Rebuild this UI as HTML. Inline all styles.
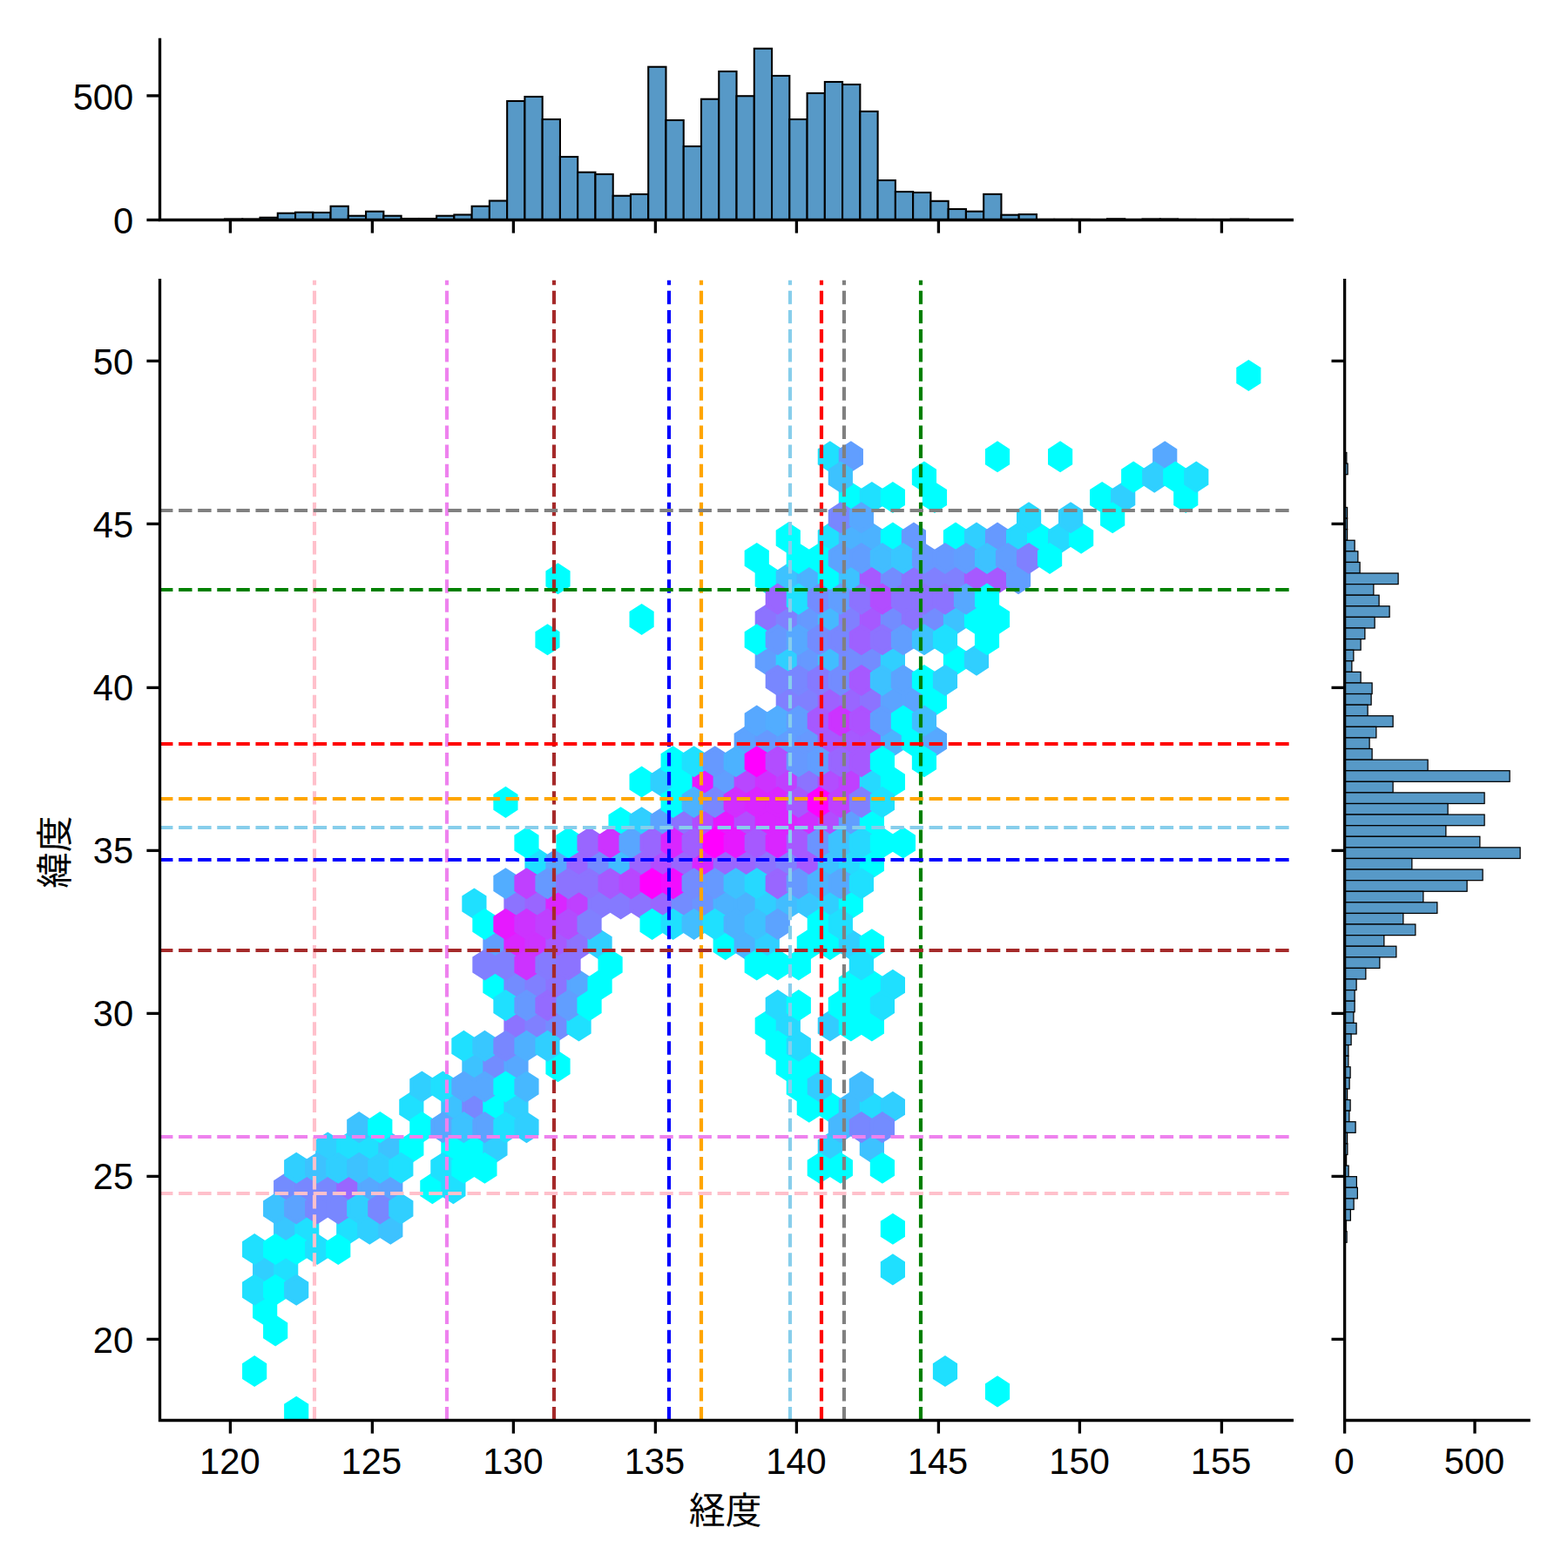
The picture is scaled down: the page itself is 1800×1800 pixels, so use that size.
<!DOCTYPE html><html><head><meta charset="utf-8"><style>html,body{margin:0;padding:0;background:#fff;font-family:"Liberation Sans",sans-serif}svg{display:block}</style></head><body><svg width="1800" height="1800" viewBox="0 0 1800 1800">
<rect width="1800" height="1800" fill="#fff"/>
<clipPath id="ax"><rect x="183.5" y="321.67" width="1299.8" height="1308.83"/></clipPath>
<g stroke-width="4.17" stroke-linejoin="miter" clip-path="url(#ax)">
<polygon points="316.17,1496.28 316.17,1511.83 304.16,1519.61 292.15,1511.83 292.15,1496.28 304.16,1488.51" fill="#00ffff" stroke="#00ffff"/>
<polygon points="316.17,1449.63 316.17,1465.18 304.16,1472.96 292.15,1465.18 292.15,1449.63 304.16,1441.85" fill="#30cfff" stroke="#30cfff"/>
<polygon points="340.20,1449.63 340.20,1465.18 328.19,1472.96 316.18,1465.18 316.18,1449.63 328.19,1441.85" fill="#1fe0ff" stroke="#1fe0ff"/>
<polygon points="340.20,1402.98 340.20,1418.53 328.19,1426.30 316.18,1418.53 316.18,1402.98 328.19,1395.20" fill="#38c7ff" stroke="#38c7ff"/>
<polygon points="340.20,1356.32 340.20,1371.87 328.19,1379.65 316.18,1371.87 316.18,1356.32 328.19,1348.55" fill="#738cff" stroke="#738cff"/>
<polygon points="364.22,1402.98 364.22,1418.53 352.21,1426.30 340.20,1418.53 340.20,1402.98 352.21,1395.20" fill="#1fe0ff" stroke="#1fe0ff"/>
<polygon points="364.22,1356.32 364.22,1371.87 352.21,1379.65 340.20,1371.87 340.20,1356.32 352.21,1348.55" fill="#7887ff" stroke="#7887ff"/>
<polygon points="388.25,1356.32 388.25,1371.87 376.24,1379.65 364.22,1371.87 364.22,1356.32 376.24,1348.55" fill="#7887ff" stroke="#7887ff"/>
<polygon points="388.25,1309.67 388.25,1325.22 376.24,1332.99 364.22,1325.22 364.22,1309.67 376.24,1301.89" fill="#30cfff" stroke="#30cfff"/>
<polygon points="412.27,1402.98 412.27,1418.53 400.26,1426.30 388.25,1418.53 388.25,1402.98 400.26,1395.20" fill="#1fe0ff" stroke="#1fe0ff"/>
<polygon points="412.27,1356.32 412.27,1371.87 400.26,1379.65 388.25,1371.87 388.25,1356.32 400.26,1348.55" fill="#9966ff" stroke="#9966ff"/>
<polygon points="412.27,1309.67 412.27,1325.22 400.26,1332.99 388.25,1325.22 388.25,1309.67 400.26,1301.89" fill="#1fe0ff" stroke="#1fe0ff"/>
<polygon points="436.30,1402.98 436.30,1418.53 424.29,1426.30 412.27,1418.53 412.27,1402.98 424.29,1395.20" fill="#30cfff" stroke="#30cfff"/>
<polygon points="436.30,1356.32 436.30,1371.87 424.29,1379.65 412.27,1371.87 412.27,1356.32 424.29,1348.55" fill="#57a8ff" stroke="#57a8ff"/>
<polygon points="436.30,1309.67 436.30,1325.22 424.29,1332.99 412.27,1325.22 412.27,1309.67 424.29,1301.89" fill="#1fe0ff" stroke="#1fe0ff"/>
<polygon points="460.32,1402.98 460.32,1418.53 448.31,1426.30 436.30,1418.53 436.30,1402.98 448.31,1395.20" fill="#3dc2ff" stroke="#3dc2ff"/>
<polygon points="460.32,1356.32 460.32,1371.87 448.31,1379.65 436.30,1371.87 436.30,1356.32 448.31,1348.55" fill="#5ca3ff" stroke="#5ca3ff"/>
<polygon points="460.32,1309.67 460.32,1325.22 448.31,1332.99 436.30,1325.22 436.30,1309.67 448.31,1301.89" fill="#3dc2ff" stroke="#3dc2ff"/>
<polygon points="484.35,1309.67 484.35,1325.22 472.34,1332.99 460.32,1325.22 460.32,1309.67 472.34,1301.89" fill="#00ffff" stroke="#00ffff"/>
<polygon points="484.35,1263.01 484.35,1278.56 472.34,1286.34 460.32,1278.56 460.32,1263.01 472.34,1255.24" fill="#1fe0ff" stroke="#1fe0ff"/>
<polygon points="508.37,1356.32 508.37,1371.87 496.36,1379.65 484.35,1371.87 484.35,1356.32 496.36,1348.55" fill="#00ffff" stroke="#00ffff"/>
<polygon points="532.40,1356.32 532.40,1371.87 520.39,1379.65 508.37,1371.87 508.37,1356.32 520.39,1348.55" fill="#1fe0ff" stroke="#1fe0ff"/>
<polygon points="532.40,1309.67 532.40,1325.22 520.39,1332.99 508.37,1325.22 508.37,1309.67 520.39,1301.89" fill="#00ffff" stroke="#00ffff"/>
<polygon points="532.40,1263.01 532.40,1278.56 520.39,1286.34 508.37,1278.56 508.37,1263.01 520.39,1255.24" fill="#3dc2ff" stroke="#3dc2ff"/>
<polygon points="556.42,1309.67 556.42,1325.22 544.41,1332.99 532.40,1325.22 532.40,1309.67 544.41,1301.89" fill="#00ffff" stroke="#00ffff"/>
<polygon points="556.42,1263.01 556.42,1278.56 544.41,1286.34 532.40,1278.56 532.40,1263.01 544.41,1255.24" fill="#7887ff" stroke="#7887ff"/>
<polygon points="556.42,1216.36 556.42,1231.91 544.41,1239.69 532.40,1231.91 532.40,1216.36 544.41,1208.58" fill="#3dc2ff" stroke="#3dc2ff"/>
<polygon points="556.42,1029.74 556.42,1045.29 544.41,1053.07 532.40,1045.29 532.40,1029.74 544.41,1021.97" fill="#1fe0ff" stroke="#1fe0ff"/>
<polygon points="580.45,1309.67 580.45,1325.22 568.44,1332.99 556.42,1325.22 556.42,1309.67 568.44,1301.89" fill="#30cfff" stroke="#30cfff"/>
<polygon points="580.45,1263.01 580.45,1278.56 568.44,1286.34 556.42,1278.56 556.42,1263.01 568.44,1255.24" fill="#00ffff" stroke="#00ffff"/>
<polygon points="580.45,1216.36 580.45,1231.91 568.44,1239.69 556.42,1231.91 556.42,1216.36 568.44,1208.58" fill="#738cff" stroke="#738cff"/>
<polygon points="580.45,1123.05 580.45,1138.60 568.44,1146.38 556.42,1138.60 556.42,1123.05 568.44,1115.28" fill="#00ffff" stroke="#00ffff"/>
<polygon points="580.45,1076.40 580.45,1091.95 568.44,1099.72 556.42,1091.95 556.42,1076.40 568.44,1068.62" fill="#619eff" stroke="#619eff"/>
<polygon points="604.48,1263.01 604.48,1278.56 592.46,1286.34 580.45,1278.56 580.45,1263.01 592.46,1255.24" fill="#30cfff" stroke="#30cfff"/>
<polygon points="604.48,1216.36 604.48,1231.91 592.46,1239.69 580.45,1231.91 580.45,1216.36 592.46,1208.58" fill="#57a8ff" stroke="#57a8ff"/>
<polygon points="604.48,1169.71 604.48,1185.26 592.46,1193.03 580.45,1185.26 580.45,1169.71 592.46,1161.93" fill="#8c73ff" stroke="#8c73ff"/>
<polygon points="604.48,1123.05 604.48,1138.60 592.46,1146.38 580.45,1138.60 580.45,1123.05 592.46,1115.28" fill="#738cff" stroke="#738cff"/>
<polygon points="604.48,1076.40 604.48,1091.95 592.46,1099.72 580.45,1091.95 580.45,1076.40 592.46,1068.62" fill="#d926ff" stroke="#d926ff"/>
<polygon points="604.48,1029.74 604.48,1045.29 592.46,1053.07 580.45,1045.29 580.45,1029.74 592.46,1021.97" fill="#8c73ff" stroke="#8c73ff"/>
<polygon points="628.50,1169.71 628.50,1185.26 616.49,1193.03 604.47,1185.26 604.47,1169.71 616.49,1161.93" fill="#8080ff" stroke="#8080ff"/>
<polygon points="628.50,1123.05 628.50,1138.60 616.49,1146.38 604.47,1138.60 604.47,1123.05 616.49,1115.28" fill="#8080ff" stroke="#8080ff"/>
<polygon points="628.50,1076.40 628.50,1091.95 616.49,1099.72 604.47,1091.95 604.47,1076.40 616.49,1068.62" fill="#cc33ff" stroke="#cc33ff"/>
<polygon points="628.50,1029.74 628.50,1045.29 616.49,1053.07 604.47,1045.29 604.47,1029.74 616.49,1021.97" fill="#9966ff" stroke="#9966ff"/>
<polygon points="628.50,983.09 628.50,998.64 616.49,1006.42 604.47,998.64 604.47,983.09 616.49,975.31" fill="#1fe0ff" stroke="#1fe0ff"/>
<polygon points="652.52,1216.36 652.52,1231.91 640.51,1239.69 628.50,1231.91 628.50,1216.36 640.51,1208.58" fill="#00ffff" stroke="#00ffff"/>
<polygon points="652.52,1169.71 652.52,1185.26 640.51,1193.03 628.50,1185.26 628.50,1169.71 640.51,1161.93" fill="#738cff" stroke="#738cff"/>
<polygon points="652.52,1123.05 652.52,1138.60 640.51,1146.38 628.50,1138.60 628.50,1123.05 640.51,1115.28" fill="#8c73ff" stroke="#8c73ff"/>
<polygon points="652.52,1076.40 652.52,1091.95 640.51,1099.72 628.50,1091.95 628.50,1076.40 640.51,1068.62" fill="#a659ff" stroke="#a659ff"/>
<polygon points="652.52,1029.74 652.52,1045.29 640.51,1053.07 628.50,1045.29 628.50,1029.74 640.51,1021.97" fill="#d926ff" stroke="#d926ff"/>
<polygon points="652.52,983.09 652.52,998.64 640.51,1006.42 628.50,998.64 628.50,983.09 640.51,975.31" fill="#57a8ff" stroke="#57a8ff"/>
<polygon points="652.52,656.51 652.52,672.06 640.51,679.84 628.50,672.06 628.50,656.51 640.51,648.74" fill="#00ffff" stroke="#00ffff"/>
<polygon points="676.55,1169.71 676.55,1185.26 664.54,1193.03 652.52,1185.26 652.52,1169.71 664.54,1161.93" fill="#1fe0ff" stroke="#1fe0ff"/>
<polygon points="676.55,1123.05 676.55,1138.60 664.54,1146.38 652.52,1138.60 652.52,1123.05 664.54,1115.28" fill="#57a8ff" stroke="#57a8ff"/>
<polygon points="676.55,1076.40 676.55,1091.95 664.54,1099.72 652.52,1091.95 652.52,1076.40 664.54,1068.62" fill="#8c73ff" stroke="#8c73ff"/>
<polygon points="676.55,1029.74 676.55,1045.29 664.54,1053.07 652.52,1045.29 652.52,1029.74 664.54,1021.97" fill="#bf40ff" stroke="#bf40ff"/>
<polygon points="676.55,983.09 676.55,998.64 664.54,1006.42 652.52,998.64 652.52,983.09 664.54,975.31" fill="#9966ff" stroke="#9966ff"/>
<polygon points="700.58,1123.05 700.58,1138.60 688.56,1146.38 676.55,1138.60 676.55,1123.05 688.56,1115.28" fill="#00ffff" stroke="#00ffff"/>
<polygon points="700.58,1076.40 700.58,1091.95 688.56,1099.72 676.55,1091.95 676.55,1076.40 688.56,1068.62" fill="#30cfff" stroke="#30cfff"/>
<polygon points="700.58,1029.74 700.58,1045.29 688.56,1053.07 676.55,1045.29 676.55,1029.74 688.56,1021.97" fill="#857aff" stroke="#857aff"/>
<polygon points="700.58,983.09 700.58,998.64 688.56,1006.42 676.55,998.64 676.55,983.09 688.56,975.31" fill="#738cff" stroke="#738cff"/>
<polygon points="724.60,1029.74 724.60,1045.29 712.59,1053.07 700.57,1045.29 700.57,1029.74 712.59,1021.97" fill="#857aff" stroke="#857aff"/>
<polygon points="724.60,983.09 724.60,998.64 712.59,1006.42 700.57,998.64 700.57,983.09 712.59,975.31" fill="#42bdff" stroke="#42bdff"/>
<polygon points="724.60,936.44 724.60,951.99 712.59,959.76 700.57,951.99 700.57,936.44 712.59,928.66" fill="#00ffff" stroke="#00ffff"/>
<polygon points="748.62,1029.74 748.62,1045.29 736.61,1053.07 724.60,1045.29 724.60,1029.74 736.61,1021.97" fill="#8c73ff" stroke="#8c73ff"/>
<polygon points="748.62,983.09 748.62,998.64 736.61,1006.42 724.60,998.64 724.60,983.09 736.61,975.31" fill="#9966ff" stroke="#9966ff"/>
<polygon points="748.62,936.44 748.62,951.99 736.61,959.76 724.60,951.99 724.60,936.44 736.61,928.66" fill="#30cfff" stroke="#30cfff"/>
<polygon points="748.62,889.78 748.62,905.33 736.61,913.11 724.60,905.33 724.60,889.78 736.61,882.01" fill="#00ffff" stroke="#00ffff"/>
<polygon points="748.62,703.17 748.62,718.72 736.61,726.49 724.60,718.72 724.60,703.17 736.61,695.39" fill="#00ffff" stroke="#00ffff"/>
<polygon points="772.65,1029.74 772.65,1045.29 760.64,1053.07 748.62,1045.29 748.62,1029.74 760.64,1021.97" fill="#9966ff" stroke="#9966ff"/>
<polygon points="772.65,983.09 772.65,998.64 760.64,1006.42 748.62,998.64 748.62,983.09 760.64,975.31" fill="#b24dff" stroke="#b24dff"/>
<polygon points="772.65,936.44 772.65,951.99 760.64,959.76 748.62,951.99 748.62,936.44 760.64,928.66" fill="#5ca3ff" stroke="#5ca3ff"/>
<polygon points="772.65,889.78 772.65,905.33 760.64,913.11 748.62,905.33 748.62,889.78 760.64,882.01" fill="#30cfff" stroke="#30cfff"/>
<polygon points="796.67,1029.74 796.67,1045.29 784.66,1053.07 772.65,1045.29 772.65,1029.74 784.66,1021.97" fill="#738cff" stroke="#738cff"/>
<polygon points="796.67,983.09 796.67,998.64 784.66,1006.42 772.65,998.64 772.65,983.09 784.66,975.31" fill="#9966ff" stroke="#9966ff"/>
<polygon points="796.67,936.44 796.67,951.99 784.66,959.76 772.65,951.99 772.65,936.44 784.66,928.66" fill="#8c73ff" stroke="#8c73ff"/>
<polygon points="796.67,889.78 796.67,905.33 784.66,913.11 772.65,905.33 772.65,889.78 784.66,882.01" fill="#00ffff" stroke="#00ffff"/>
<polygon points="820.70,1029.74 820.70,1045.29 808.69,1053.07 796.67,1045.29 796.67,1029.74 808.69,1021.97" fill="#6b94ff" stroke="#6b94ff"/>
<polygon points="820.70,983.09 820.70,998.64 808.69,1006.42 796.67,998.64 796.67,983.09 808.69,975.31" fill="#d926ff" stroke="#d926ff"/>
<polygon points="820.70,936.44 820.70,951.99 808.69,959.76 796.67,951.99 796.67,936.44 808.69,928.66" fill="#b24dff" stroke="#b24dff"/>
<polygon points="820.70,889.78 820.70,905.33 808.69,913.11 796.67,905.33 796.67,889.78 808.69,882.01" fill="#e619ff" stroke="#e619ff"/>
<polygon points="844.73,1076.40 844.73,1091.95 832.71,1099.72 820.70,1091.95 820.70,1076.40 832.71,1068.62" fill="#00ffff" stroke="#00ffff"/>
<polygon points="844.73,1029.74 844.73,1045.29 832.71,1053.07 820.70,1045.29 820.70,1029.74 832.71,1021.97" fill="#4cb2ff" stroke="#4cb2ff"/>
<polygon points="844.73,983.09 844.73,998.64 832.71,1006.42 820.70,998.64 820.70,983.09 832.71,975.31" fill="#9966ff" stroke="#9966ff"/>
<polygon points="844.73,936.44 844.73,951.99 832.71,959.76 820.70,951.99 820.70,936.44 832.71,928.66" fill="#e619ff" stroke="#e619ff"/>
<polygon points="844.73,889.78 844.73,905.33 832.71,913.11 820.70,905.33 820.70,889.78 832.71,882.01" fill="#619eff" stroke="#619eff"/>
<polygon points="868.75,1076.40 868.75,1091.95 856.74,1099.72 844.72,1091.95 844.72,1076.40 856.74,1068.62" fill="#4cb2ff" stroke="#4cb2ff"/>
<polygon points="868.75,1029.74 868.75,1045.29 856.74,1053.07 844.72,1045.29 844.72,1029.74 856.74,1021.97" fill="#4cb2ff" stroke="#4cb2ff"/>
<polygon points="868.75,983.09 868.75,998.64 856.74,1006.42 844.72,998.64 844.72,983.09 856.74,975.31" fill="#9966ff" stroke="#9966ff"/>
<polygon points="868.75,936.44 868.75,951.99 856.74,959.76 844.72,951.99 844.72,936.44 856.74,928.66" fill="#b24dff" stroke="#b24dff"/>
<polygon points="868.75,889.78 868.75,905.33 856.74,913.11 844.72,905.33 844.72,889.78 856.74,882.01" fill="#b847ff" stroke="#b847ff"/>
<polygon points="868.75,843.13 868.75,858.68 856.74,866.45 844.72,858.68 844.72,843.13 856.74,835.35" fill="#5ca3ff" stroke="#5ca3ff"/>
<polygon points="892.77,1169.71 892.77,1185.26 880.76,1193.03 868.75,1185.26 868.75,1169.71 880.76,1161.93" fill="#00ffff" stroke="#00ffff"/>
<polygon points="892.77,1076.40 892.77,1091.95 880.76,1099.72 868.75,1091.95 868.75,1076.40 880.76,1068.62" fill="#30cfff" stroke="#30cfff"/>
<polygon points="892.77,1029.74 892.77,1045.29 880.76,1053.07 868.75,1045.29 868.75,1029.74 880.76,1021.97" fill="#30cfff" stroke="#30cfff"/>
<polygon points="892.77,983.09 892.77,998.64 880.76,1006.42 868.75,998.64 868.75,983.09 880.76,975.31" fill="#8c73ff" stroke="#8c73ff"/>
<polygon points="892.77,936.44 892.77,951.99 880.76,959.76 868.75,951.99 868.75,936.44 880.76,928.66" fill="#d926ff" stroke="#d926ff"/>
<polygon points="892.77,889.78 892.77,905.33 880.76,913.11 868.75,905.33 868.75,889.78 880.76,882.01" fill="#cc33ff" stroke="#cc33ff"/>
<polygon points="892.77,843.13 892.77,858.68 880.76,866.45 868.75,858.68 868.75,843.13 880.76,835.35" fill="#6699ff" stroke="#6699ff"/>
<polygon points="892.77,749.82 892.77,765.37 880.76,773.15 868.75,765.37 868.75,749.82 880.76,742.04" fill="#619eff" stroke="#619eff"/>
<polygon points="892.77,703.17 892.77,718.72 880.76,726.49 868.75,718.72 868.75,703.17 880.76,695.39" fill="#8c73ff" stroke="#8c73ff"/>
<polygon points="892.77,656.51 892.77,672.06 880.76,679.84 868.75,672.06 868.75,656.51 880.76,648.74" fill="#00ffff" stroke="#00ffff"/>
<polygon points="916.80,1216.36 916.80,1231.91 904.79,1239.69 892.77,1231.91 892.77,1216.36 904.79,1208.58" fill="#00ffff" stroke="#00ffff"/>
<polygon points="916.80,1169.71 916.80,1185.26 904.79,1193.03 892.77,1185.26 892.77,1169.71 904.79,1161.93" fill="#26d9ff" stroke="#26d9ff"/>
<polygon points="916.80,1029.74 916.80,1045.29 904.79,1053.07 892.77,1045.29 892.77,1029.74 904.79,1021.97" fill="#42bdff" stroke="#42bdff"/>
<polygon points="916.80,983.09 916.80,998.64 904.79,1006.42 892.77,998.64 892.77,983.09 904.79,975.31" fill="#8080ff" stroke="#8080ff"/>
<polygon points="916.80,936.44 916.80,951.99 904.79,959.76 892.77,951.99 892.77,936.44 904.79,928.66" fill="#d926ff" stroke="#d926ff"/>
<polygon points="916.80,889.78 916.80,905.33 904.79,913.11 892.77,905.33 892.77,889.78 904.79,882.01" fill="#bf40ff" stroke="#bf40ff"/>
<polygon points="916.80,843.13 916.80,858.68 904.79,866.45 892.77,858.68 892.77,843.13 904.79,835.35" fill="#619eff" stroke="#619eff"/>
<polygon points="916.80,796.47 916.80,812.02 904.79,819.80 892.77,812.02 892.77,796.47 904.79,788.70" fill="#8080ff" stroke="#8080ff"/>
<polygon points="916.80,749.82 916.80,765.37 904.79,773.15 892.77,765.37 892.77,749.82 904.79,742.04" fill="#30cfff" stroke="#30cfff"/>
<polygon points="916.80,703.17 916.80,718.72 904.79,726.49 892.77,718.72 892.77,703.17 904.79,695.39" fill="#8080ff" stroke="#8080ff"/>
<polygon points="916.80,656.51 916.80,672.06 904.79,679.84 892.77,672.06 892.77,656.51 904.79,648.74" fill="#3dc2ff" stroke="#3dc2ff"/>
<polygon points="916.80,609.86 916.80,625.41 904.79,633.18 892.77,625.41 892.77,609.86 904.79,602.08" fill="#00ffff" stroke="#00ffff"/>
<polygon points="940.82,1263.01 940.82,1278.56 928.81,1286.34 916.80,1278.56 916.80,1263.01 928.81,1255.24" fill="#00ffff" stroke="#00ffff"/>
<polygon points="940.82,1216.36 940.82,1231.91 928.81,1239.69 916.80,1231.91 916.80,1216.36 928.81,1208.58" fill="#00ffff" stroke="#00ffff"/>
<polygon points="940.82,1076.40 940.82,1091.95 928.81,1099.72 916.80,1091.95 916.80,1076.40 928.81,1068.62" fill="#00ffff" stroke="#00ffff"/>
<polygon points="940.82,1029.74 940.82,1045.29 928.81,1053.07 916.80,1045.29 916.80,1029.74 928.81,1021.97" fill="#38c7ff" stroke="#38c7ff"/>
<polygon points="940.82,983.09 940.82,998.64 928.81,1006.42 916.80,998.64 916.80,983.09 928.81,975.31" fill="#a659ff" stroke="#a659ff"/>
<polygon points="940.82,936.44 940.82,951.99 928.81,959.76 916.80,951.99 916.80,936.44 928.81,928.66" fill="#d12eff" stroke="#d12eff"/>
<polygon points="940.82,889.78 940.82,905.33 928.81,913.11 916.80,905.33 916.80,889.78 928.81,882.01" fill="#8c73ff" stroke="#8c73ff"/>
<polygon points="940.82,843.13 940.82,858.68 928.81,866.45 916.80,858.68 916.80,843.13 928.81,835.35" fill="#6699ff" stroke="#6699ff"/>
<polygon points="940.82,796.47 940.82,812.02 928.81,819.80 916.80,812.02 916.80,796.47 928.81,788.70" fill="#8080ff" stroke="#8080ff"/>
<polygon points="940.82,749.82 940.82,765.37 928.81,773.15 916.80,765.37 916.80,749.82 928.81,742.04" fill="#6699ff" stroke="#6699ff"/>
<polygon points="940.82,703.17 940.82,718.72 928.81,726.49 916.80,718.72 916.80,703.17 928.81,695.39" fill="#6699ff" stroke="#6699ff"/>
<polygon points="940.82,656.51 940.82,672.06 928.81,679.84 916.80,672.06 916.80,656.51 928.81,648.74" fill="#4cb2ff" stroke="#4cb2ff"/>
<polygon points="964.85,1309.67 964.85,1325.22 952.84,1332.99 940.82,1325.22 940.82,1309.67 952.84,1301.89" fill="#30cfff" stroke="#30cfff"/>
<polygon points="964.85,1263.01 964.85,1278.56 952.84,1286.34 940.82,1278.56 940.82,1263.01 952.84,1255.24" fill="#00ffff" stroke="#00ffff"/>
<polygon points="964.85,1169.71 964.85,1185.26 952.84,1193.03 940.82,1185.26 940.82,1169.71 952.84,1161.93" fill="#33ccff" stroke="#33ccff"/>
<polygon points="964.85,1076.40 964.85,1091.95 952.84,1099.72 940.82,1091.95 940.82,1076.40 952.84,1068.62" fill="#00ffff" stroke="#00ffff"/>
<polygon points="964.85,1029.74 964.85,1045.29 952.84,1053.07 940.82,1045.29 940.82,1029.74 952.84,1021.97" fill="#30cfff" stroke="#30cfff"/>
<polygon points="964.85,983.09 964.85,998.64 952.84,1006.42 940.82,998.64 940.82,983.09 952.84,975.31" fill="#3dc2ff" stroke="#3dc2ff"/>
<polygon points="964.85,936.44 964.85,951.99 952.84,959.76 940.82,951.99 940.82,936.44 952.84,928.66" fill="#b24dff" stroke="#b24dff"/>
<polygon points="964.85,889.78 964.85,905.33 952.84,913.11 940.82,905.33 940.82,889.78 952.84,882.01" fill="#b24dff" stroke="#b24dff"/>
<polygon points="964.85,843.13 964.85,858.68 952.84,866.45 940.82,858.68 940.82,843.13 952.84,835.35" fill="#a659ff" stroke="#a659ff"/>
<polygon points="964.85,796.47 964.85,812.02 952.84,819.80 940.82,812.02 940.82,796.47 952.84,788.70" fill="#9e61ff" stroke="#9e61ff"/>
<polygon points="964.85,749.82 964.85,765.37 952.84,773.15 940.82,765.37 940.82,749.82 952.84,742.04" fill="#42bdff" stroke="#42bdff"/>
<polygon points="964.85,703.17 964.85,718.72 952.84,726.49 940.82,718.72 940.82,703.17 952.84,695.39" fill="#47b8ff" stroke="#47b8ff"/>
<polygon points="964.85,656.51 964.85,672.06 952.84,679.84 940.82,672.06 940.82,656.51 952.84,648.74" fill="#00ffff" stroke="#00ffff"/>
<polygon points="964.85,609.86 964.85,625.41 952.84,633.18 940.82,625.41 940.82,609.86 952.84,602.08" fill="#1fe0ff" stroke="#1fe0ff"/>
<polygon points="964.85,516.55 964.85,532.10 952.84,539.88 940.82,532.10 940.82,516.55 952.84,508.77" fill="#1fe0ff" stroke="#1fe0ff"/>
<polygon points="988.88,1263.01 988.88,1278.56 976.86,1286.34 964.85,1278.56 964.85,1263.01 976.86,1255.24" fill="#42bdff" stroke="#42bdff"/>
<polygon points="988.88,1169.71 988.88,1185.26 976.86,1193.03 964.85,1185.26 964.85,1169.71 976.86,1161.93" fill="#00ffff" stroke="#00ffff"/>
<polygon points="988.88,1123.05 988.88,1138.60 976.86,1146.38 964.85,1138.60 964.85,1123.05 976.86,1115.28" fill="#00ffff" stroke="#00ffff"/>
<polygon points="988.88,1076.40 988.88,1091.95 976.86,1099.72 964.85,1091.95 964.85,1076.40 976.86,1068.62" fill="#30cfff" stroke="#30cfff"/>
<polygon points="988.88,1029.74 988.88,1045.29 976.86,1053.07 964.85,1045.29 964.85,1029.74 976.86,1021.97" fill="#00ffff" stroke="#00ffff"/>
<polygon points="988.88,983.09 988.88,998.64 976.86,1006.42 964.85,998.64 964.85,983.09 976.86,975.31" fill="#26d9ff" stroke="#26d9ff"/>
<polygon points="988.88,936.44 988.88,951.99 976.86,959.76 964.85,951.99 964.85,936.44 976.86,928.66" fill="#619eff" stroke="#619eff"/>
<polygon points="988.88,889.78 988.88,905.33 976.86,913.11 964.85,905.33 964.85,889.78 976.86,882.01" fill="#bf40ff" stroke="#bf40ff"/>
<polygon points="988.88,843.13 988.88,858.68 976.86,866.45 964.85,858.68 964.85,843.13 976.86,835.35" fill="#a659ff" stroke="#a659ff"/>
<polygon points="988.88,796.47 988.88,812.02 976.86,819.80 964.85,812.02 964.85,796.47 976.86,788.70" fill="#9966ff" stroke="#9966ff"/>
<polygon points="988.88,749.82 988.88,765.37 976.86,773.15 964.85,765.37 964.85,749.82 976.86,742.04" fill="#738cff" stroke="#738cff"/>
<polygon points="988.88,703.17 988.88,718.72 976.86,726.49 964.85,718.72 964.85,703.17 976.86,695.39" fill="#8080ff" stroke="#8080ff"/>
<polygon points="988.88,656.51 988.88,672.06 976.86,679.84 964.85,672.06 964.85,656.51 976.86,648.74" fill="#3dc2ff" stroke="#3dc2ff"/>
<polygon points="988.88,609.86 988.88,625.41 976.86,633.18 964.85,625.41 964.85,609.86 976.86,602.08" fill="#4cb2ff" stroke="#4cb2ff"/>
<polygon points="988.88,563.20 988.88,578.75 976.86,586.53 964.85,578.75 964.85,563.20 976.86,555.43" fill="#00ffff" stroke="#00ffff"/>
<polygon points="988.88,516.55 988.88,532.10 976.86,539.88 964.85,532.10 964.85,516.55 976.86,508.77" fill="#619eff" stroke="#619eff"/>
<polygon points="1012.90,1309.67 1012.90,1325.22 1000.89,1332.99 988.87,1325.22 988.87,1309.67 1000.89,1301.89" fill="#3dc2ff" stroke="#3dc2ff"/>
<polygon points="1012.90,1263.01 1012.90,1278.56 1000.89,1286.34 988.87,1278.56 988.87,1263.01 1000.89,1255.24" fill="#24dbff" stroke="#24dbff"/>
<polygon points="1012.90,1169.71 1012.90,1185.26 1000.89,1193.03 988.87,1185.26 988.87,1169.71 1000.89,1161.93" fill="#00ffff" stroke="#00ffff"/>
<polygon points="1012.90,1123.05 1012.90,1138.60 1000.89,1146.38 988.87,1138.60 988.87,1123.05 1000.89,1115.28" fill="#00ffff" stroke="#00ffff"/>
<polygon points="1012.90,1076.40 1012.90,1091.95 1000.89,1099.72 988.87,1091.95 988.87,1076.40 1000.89,1068.62" fill="#00ffff" stroke="#00ffff"/>
<polygon points="1012.90,983.09 1012.90,998.64 1000.89,1006.42 988.87,998.64 988.87,983.09 1000.89,975.31" fill="#00ffff" stroke="#00ffff"/>
<polygon points="1012.90,936.44 1012.90,951.99 1000.89,959.76 988.87,951.99 988.87,936.44 1000.89,928.66" fill="#00ffff" stroke="#00ffff"/>
<polygon points="1012.90,889.78 1012.90,905.33 1000.89,913.11 988.87,905.33 988.87,889.78 1000.89,882.01" fill="#26d9ff" stroke="#26d9ff"/>
<polygon points="1012.90,843.13 1012.90,858.68 1000.89,866.45 988.87,858.68 988.87,843.13 1000.89,835.35" fill="#a659ff" stroke="#a659ff"/>
<polygon points="1012.90,796.47 1012.90,812.02 1000.89,819.80 988.87,812.02 988.87,796.47 1000.89,788.70" fill="#8c73ff" stroke="#8c73ff"/>
<polygon points="1012.90,749.82 1012.90,765.37 1000.89,773.15 988.87,765.37 988.87,749.82 1000.89,742.04" fill="#738cff" stroke="#738cff"/>
<polygon points="1012.90,703.17 1012.90,718.72 1000.89,726.49 988.87,718.72 988.87,703.17 1000.89,695.39" fill="#a659ff" stroke="#a659ff"/>
<polygon points="1012.90,656.51 1012.90,672.06 1000.89,679.84 988.87,672.06 988.87,656.51 1000.89,648.74" fill="#a659ff" stroke="#a659ff"/>
<polygon points="1012.90,609.86 1012.90,625.41 1000.89,633.18 988.87,625.41 988.87,609.86 1000.89,602.08" fill="#4cb2ff" stroke="#4cb2ff"/>
<polygon points="1012.90,563.20 1012.90,578.75 1000.89,586.53 988.87,578.75 988.87,563.20 1000.89,555.43" fill="#1fe0ff" stroke="#1fe0ff"/>
<polygon points="1036.92,1449.63 1036.92,1465.18 1024.91,1472.96 1012.90,1465.18 1012.90,1449.63 1024.91,1441.85" fill="#1fe0ff" stroke="#1fe0ff"/>
<polygon points="1036.92,1402.98 1036.92,1418.53 1024.91,1426.30 1012.90,1418.53 1012.90,1402.98 1024.91,1395.20" fill="#00ffff" stroke="#00ffff"/>
<polygon points="1036.92,1263.01 1036.92,1278.56 1024.91,1286.34 1012.90,1278.56 1012.90,1263.01 1024.91,1255.24" fill="#30cfff" stroke="#30cfff"/>
<polygon points="1036.92,1123.05 1036.92,1138.60 1024.91,1146.38 1012.90,1138.60 1012.90,1123.05 1024.91,1115.28" fill="#1fe0ff" stroke="#1fe0ff"/>
<polygon points="1036.92,889.78 1036.92,905.33 1024.91,913.11 1012.90,905.33 1012.90,889.78 1024.91,882.01" fill="#00ffff" stroke="#00ffff"/>
<polygon points="1036.92,843.13 1036.92,858.68 1024.91,866.45 1012.90,858.68 1012.90,843.13 1024.91,835.35" fill="#4cb2ff" stroke="#4cb2ff"/>
<polygon points="1036.92,796.47 1036.92,812.02 1024.91,819.80 1012.90,812.02 1012.90,796.47 1024.91,788.70" fill="#5ca3ff" stroke="#5ca3ff"/>
<polygon points="1036.92,749.82 1036.92,765.37 1024.91,773.15 1012.90,765.37 1012.90,749.82 1024.91,742.04" fill="#30cfff" stroke="#30cfff"/>
<polygon points="1036.92,703.17 1036.92,718.72 1024.91,726.49 1012.90,718.72 1012.90,703.17 1024.91,695.39" fill="#738cff" stroke="#738cff"/>
<polygon points="1036.92,656.51 1036.92,672.06 1024.91,679.84 1012.90,672.06 1012.90,656.51 1024.91,648.74" fill="#738cff" stroke="#738cff"/>
<polygon points="1036.92,609.86 1036.92,625.41 1024.91,633.18 1012.90,625.41 1012.90,609.86 1024.91,602.08" fill="#00ffff" stroke="#00ffff"/>
<polygon points="1036.92,563.20 1036.92,578.75 1024.91,586.53 1012.90,578.75 1012.90,563.20 1024.91,555.43" fill="#00ffff" stroke="#00ffff"/>
<polygon points="1060.95,843.13 1060.95,858.68 1048.94,866.45 1036.92,858.68 1036.92,843.13 1048.94,835.35" fill="#00ffff" stroke="#00ffff"/>
<polygon points="1060.95,796.47 1060.95,812.02 1048.94,819.80 1036.92,812.02 1036.92,796.47 1048.94,788.70" fill="#5ca3ff" stroke="#5ca3ff"/>
<polygon points="1060.95,703.17 1060.95,718.72 1048.94,726.49 1036.92,718.72 1036.92,703.17 1048.94,695.39" fill="#8c73ff" stroke="#8c73ff"/>
<polygon points="1060.95,656.51 1060.95,672.06 1048.94,679.84 1036.92,672.06 1036.92,656.51 1048.94,648.74" fill="#8c73ff" stroke="#8c73ff"/>
<polygon points="1060.95,609.86 1060.95,625.41 1048.94,633.18 1036.92,625.41 1036.92,609.86 1048.94,602.08" fill="#6699ff" stroke="#6699ff"/>
<polygon points="1084.98,843.13 1084.98,858.68 1072.96,866.45 1060.95,858.68 1060.95,843.13 1072.96,835.35" fill="#57a8ff" stroke="#57a8ff"/>
<polygon points="1084.98,796.47 1084.98,812.02 1072.96,819.80 1060.95,812.02 1060.95,796.47 1072.96,788.70" fill="#00ffff" stroke="#00ffff"/>
<polygon points="1084.98,703.17 1084.98,718.72 1072.96,726.49 1060.95,718.72 1060.95,703.17 1072.96,695.39" fill="#738cff" stroke="#738cff"/>
<polygon points="1084.98,656.51 1084.98,672.06 1072.96,679.84 1060.95,672.06 1060.95,656.51 1072.96,648.74" fill="#8080ff" stroke="#8080ff"/>
<polygon points="1084.98,563.20 1084.98,578.75 1072.96,586.53 1060.95,578.75 1060.95,563.20 1072.96,555.43" fill="#00ffff" stroke="#00ffff"/>
<polygon points="1109.00,749.82 1109.00,765.37 1096.99,773.15 1084.97,765.37 1084.97,749.82 1096.99,742.04" fill="#00ffff" stroke="#00ffff"/>
<polygon points="1109.00,703.17 1109.00,718.72 1096.99,726.49 1084.97,718.72 1084.97,703.17 1096.99,695.39" fill="#3dc2ff" stroke="#3dc2ff"/>
<polygon points="1109.00,656.51 1109.00,672.06 1096.99,679.84 1084.97,672.06 1084.97,656.51 1096.99,648.74" fill="#8080ff" stroke="#8080ff"/>
<polygon points="1109.00,609.86 1109.00,625.41 1096.99,633.18 1084.97,625.41 1084.97,609.86 1096.99,602.08" fill="#00ffff" stroke="#00ffff"/>
<polygon points="1133.02,749.82 1133.02,765.37 1121.01,773.15 1109.00,765.37 1109.00,749.82 1121.01,742.04" fill="#30cfff" stroke="#30cfff"/>
<polygon points="1133.02,703.17 1133.02,718.72 1121.01,726.49 1109.00,718.72 1109.00,703.17 1121.01,695.39" fill="#00ffff" stroke="#00ffff"/>
<polygon points="1133.02,656.51 1133.02,672.06 1121.01,679.84 1109.00,672.06 1109.00,656.51 1121.01,648.74" fill="#a659ff" stroke="#a659ff"/>
<polygon points="1133.02,609.86 1133.02,625.41 1121.01,633.18 1109.00,625.41 1109.00,609.86 1121.01,602.08" fill="#30cfff" stroke="#30cfff"/>
<polygon points="1157.05,1589.59 1157.05,1605.14 1145.04,1612.92 1133.02,1605.14 1133.02,1589.59 1145.04,1581.82" fill="#00ffff" stroke="#00ffff"/>
<polygon points="1157.05,703.17 1157.05,718.72 1145.04,726.49 1133.02,718.72 1133.02,703.17 1145.04,695.39" fill="#00ffff" stroke="#00ffff"/>
<polygon points="1157.05,656.51 1157.05,672.06 1145.04,679.84 1133.02,672.06 1133.02,656.51 1145.04,648.74" fill="#a659ff" stroke="#a659ff"/>
<polygon points="1157.05,609.86 1157.05,625.41 1145.04,633.18 1133.02,625.41 1133.02,609.86 1145.04,602.08" fill="#6699ff" stroke="#6699ff"/>
<polygon points="1157.05,516.55 1157.05,532.10 1145.04,539.88 1133.02,532.10 1133.02,516.55 1145.04,508.77" fill="#00ffff" stroke="#00ffff"/>
<polygon points="1181.08,656.51 1181.08,672.06 1169.06,679.84 1157.05,672.06 1157.05,656.51 1169.06,648.74" fill="#619eff" stroke="#619eff"/>
<polygon points="1181.08,609.86 1181.08,625.41 1169.06,633.18 1157.05,625.41 1157.05,609.86 1169.06,602.08" fill="#26d9ff" stroke="#26d9ff"/>
<polygon points="1205.10,609.86 1205.10,625.41 1193.09,633.18 1181.08,625.41 1181.08,609.86 1193.09,602.08" fill="#00ffff" stroke="#00ffff"/>
<polygon points="1229.12,609.86 1229.12,625.41 1217.11,633.18 1205.10,625.41 1205.10,609.86 1217.11,602.08" fill="#26d9ff" stroke="#26d9ff"/>
<polygon points="1229.12,516.55 1229.12,532.10 1217.11,539.88 1205.10,532.10 1205.10,516.55 1217.11,508.77" fill="#00ffff" stroke="#00ffff"/>
<polygon points="1253.15,609.86 1253.15,625.41 1241.14,633.18 1229.12,625.41 1229.12,609.86 1241.14,602.08" fill="#00ffff" stroke="#00ffff"/>
<polygon points="1277.17,563.20 1277.17,578.75 1265.16,586.53 1253.15,578.75 1253.15,563.20 1265.16,555.43" fill="#00ffff" stroke="#00ffff"/>
<polygon points="1301.20,563.20 1301.20,578.75 1289.19,586.53 1277.17,578.75 1277.17,563.20 1289.19,555.43" fill="#30cfff" stroke="#30cfff"/>
<polygon points="1349.25,516.55 1349.25,532.10 1337.24,539.88 1325.22,532.10 1325.22,516.55 1337.24,508.77" fill="#57a8ff" stroke="#57a8ff"/>
<polygon points="1373.27,563.20 1373.27,578.75 1361.26,586.53 1349.25,578.75 1349.25,563.20 1361.26,555.43" fill="#00ffff" stroke="#00ffff"/>
<polygon points="1445.35,423.24 1445.35,438.79 1433.34,446.57 1421.33,438.79 1421.33,423.24 1433.34,415.47" fill="#00ffff" stroke="#00ffff"/>
<polygon points="304.16,1566.26 304.16,1581.82 292.15,1589.59 280.14,1581.82 280.14,1566.26 292.15,1558.49" fill="#00ffff" stroke="#00ffff"/>
<polygon points="304.16,1472.96 304.16,1488.51 292.15,1496.28 280.14,1488.51 280.14,1472.96 292.15,1465.18" fill="#1fe0ff" stroke="#1fe0ff"/>
<polygon points="304.16,1426.30 304.16,1441.85 292.15,1449.63 280.14,1441.85 280.14,1426.30 292.15,1418.53" fill="#1fe0ff" stroke="#1fe0ff"/>
<polygon points="328.19,1519.61 328.19,1535.16 316.17,1542.94 304.16,1535.16 304.16,1519.61 316.17,1511.83" fill="#00ffff" stroke="#00ffff"/>
<polygon points="328.19,1472.96 328.19,1488.51 316.17,1496.28 304.16,1488.51 304.16,1472.96 316.17,1465.18" fill="#00ffff" stroke="#00ffff"/>
<polygon points="328.19,1426.30 328.19,1441.85 316.17,1449.63 304.16,1441.85 304.16,1426.30 316.17,1418.53" fill="#00ffff" stroke="#00ffff"/>
<polygon points="328.19,1379.65 328.19,1395.20 316.17,1402.98 304.16,1395.20 304.16,1379.65 316.17,1371.87" fill="#3dc2ff" stroke="#3dc2ff"/>
<polygon points="352.21,1612.92 352.21,1628.47 340.20,1636.25 328.19,1628.47 328.19,1612.92 340.20,1605.14" fill="#00ffff" stroke="#00ffff"/>
<polygon points="352.21,1472.96 352.21,1488.51 340.20,1496.28 328.19,1488.51 328.19,1472.96 340.20,1465.18" fill="#30cfff" stroke="#30cfff"/>
<polygon points="352.21,1426.30 352.21,1441.85 340.20,1449.63 328.19,1441.85 328.19,1426.30 340.20,1418.53" fill="#00ffff" stroke="#00ffff"/>
<polygon points="352.21,1379.65 352.21,1395.20 340.20,1402.98 328.19,1395.20 328.19,1379.65 340.20,1371.87" fill="#5ca3ff" stroke="#5ca3ff"/>
<polygon points="352.21,1332.99 352.21,1348.55 340.20,1356.32 328.19,1348.55 328.19,1332.99 340.20,1325.22" fill="#30cfff" stroke="#30cfff"/>
<polygon points="376.24,1426.30 376.24,1441.85 364.22,1449.63 352.21,1441.85 352.21,1426.30 364.22,1418.53" fill="#1fe0ff" stroke="#1fe0ff"/>
<polygon points="376.24,1379.65 376.24,1395.20 364.22,1402.98 352.21,1395.20 352.21,1379.65 364.22,1371.87" fill="#7887ff" stroke="#7887ff"/>
<polygon points="376.24,1332.99 376.24,1348.55 364.22,1356.32 352.21,1348.55 352.21,1332.99 364.22,1325.22" fill="#3dc2ff" stroke="#3dc2ff"/>
<polygon points="400.26,1426.30 400.26,1441.85 388.25,1449.63 376.24,1441.85 376.24,1426.30 388.25,1418.53" fill="#00ffff" stroke="#00ffff"/>
<polygon points="400.26,1379.65 400.26,1395.20 388.25,1402.98 376.24,1395.20 376.24,1379.65 388.25,1371.87" fill="#7887ff" stroke="#7887ff"/>
<polygon points="400.26,1332.99 400.26,1348.55 388.25,1356.32 376.24,1348.55 376.24,1332.99 388.25,1325.22" fill="#30cfff" stroke="#30cfff"/>
<polygon points="424.29,1379.65 424.29,1395.20 412.27,1402.98 400.26,1395.20 400.26,1379.65 412.27,1371.87" fill="#30cfff" stroke="#30cfff"/>
<polygon points="424.29,1332.99 424.29,1348.55 412.27,1356.32 400.26,1348.55 400.26,1332.99 412.27,1325.22" fill="#3dc2ff" stroke="#3dc2ff"/>
<polygon points="424.29,1286.34 424.29,1301.89 412.27,1309.67 400.26,1301.89 400.26,1286.34 412.27,1278.56" fill="#3dc2ff" stroke="#3dc2ff"/>
<polygon points="448.31,1379.65 448.31,1395.20 436.30,1402.98 424.29,1395.20 424.29,1379.65 436.30,1371.87" fill="#7887ff" stroke="#7887ff"/>
<polygon points="448.31,1332.99 448.31,1348.55 436.30,1356.32 424.29,1348.55 424.29,1332.99 436.30,1325.22" fill="#30cfff" stroke="#30cfff"/>
<polygon points="448.31,1286.34 448.31,1301.89 436.30,1309.67 424.29,1301.89 424.29,1286.34 436.30,1278.56" fill="#00ffff" stroke="#00ffff"/>
<polygon points="472.34,1379.65 472.34,1395.20 460.32,1402.98 448.31,1395.20 448.31,1379.65 460.32,1371.87" fill="#30cfff" stroke="#30cfff"/>
<polygon points="472.34,1332.99 472.34,1348.55 460.32,1356.32 448.31,1348.55 448.31,1332.99 460.32,1325.22" fill="#1fe0ff" stroke="#1fe0ff"/>
<polygon points="496.36,1286.34 496.36,1301.89 484.35,1309.67 472.34,1301.89 472.34,1286.34 484.35,1278.56" fill="#00ffff" stroke="#00ffff"/>
<polygon points="496.36,1239.69 496.36,1255.24 484.35,1263.01 472.34,1255.24 472.34,1239.69 484.35,1231.91" fill="#30cfff" stroke="#30cfff"/>
<polygon points="520.39,1332.99 520.39,1348.55 508.38,1356.32 496.36,1348.55 496.36,1332.99 508.38,1325.22" fill="#1fe0ff" stroke="#1fe0ff"/>
<polygon points="520.39,1286.34 520.39,1301.89 508.38,1309.67 496.36,1301.89 496.36,1286.34 508.38,1278.56" fill="#57a8ff" stroke="#57a8ff"/>
<polygon points="520.39,1239.69 520.39,1255.24 508.38,1263.01 496.36,1255.24 496.36,1239.69 508.38,1231.91" fill="#1fe0ff" stroke="#1fe0ff"/>
<polygon points="544.41,1332.99 544.41,1348.55 532.40,1356.32 520.39,1348.55 520.39,1332.99 532.40,1325.22" fill="#00ffff" stroke="#00ffff"/>
<polygon points="544.41,1286.34 544.41,1301.89 532.40,1309.67 520.39,1301.89 520.39,1286.34 532.40,1278.56" fill="#3dc2ff" stroke="#3dc2ff"/>
<polygon points="544.41,1239.69 544.41,1255.24 532.40,1263.01 520.39,1255.24 520.39,1239.69 532.40,1231.91" fill="#57a8ff" stroke="#57a8ff"/>
<polygon points="544.41,1193.03 544.41,1208.58 532.40,1216.36 520.39,1208.58 520.39,1193.03 532.40,1185.26" fill="#1fe0ff" stroke="#1fe0ff"/>
<polygon points="568.44,1332.99 568.44,1348.55 556.42,1356.32 544.41,1348.55 544.41,1332.99 556.42,1325.22" fill="#00ffff" stroke="#00ffff"/>
<polygon points="568.44,1286.34 568.44,1301.89 556.42,1309.67 544.41,1301.89 544.41,1286.34 556.42,1278.56" fill="#5ca3ff" stroke="#5ca3ff"/>
<polygon points="568.44,1239.69 568.44,1255.24 556.42,1263.01 544.41,1255.24 544.41,1239.69 556.42,1231.91" fill="#57a8ff" stroke="#57a8ff"/>
<polygon points="568.44,1193.03 568.44,1208.58 556.42,1216.36 544.41,1208.58 544.41,1193.03 556.42,1185.26" fill="#38c7ff" stroke="#38c7ff"/>
<polygon points="568.44,1099.72 568.44,1115.28 556.42,1123.05 544.41,1115.28 544.41,1099.72 556.42,1091.95" fill="#8080ff" stroke="#8080ff"/>
<polygon points="568.44,1053.07 568.44,1068.62 556.42,1076.40 544.41,1068.62 544.41,1053.07 556.42,1045.29" fill="#00ffff" stroke="#00ffff"/>
<polygon points="592.46,1286.34 592.46,1301.89 580.45,1309.67 568.44,1301.89 568.44,1286.34 580.45,1278.56" fill="#1fe0ff" stroke="#1fe0ff"/>
<polygon points="592.46,1239.69 592.46,1255.24 580.45,1263.01 568.44,1255.24 568.44,1239.69 580.45,1231.91" fill="#00ffff" stroke="#00ffff"/>
<polygon points="592.46,1193.03 592.46,1208.58 580.45,1216.36 568.44,1208.58 568.44,1193.03 580.45,1185.26" fill="#7887ff" stroke="#7887ff"/>
<polygon points="592.46,1146.38 592.46,1161.93 580.45,1169.71 568.44,1161.93 568.44,1146.38 580.45,1138.60" fill="#1fe0ff" stroke="#1fe0ff"/>
<polygon points="592.46,1099.72 592.46,1115.28 580.45,1123.05 568.44,1115.28 568.44,1099.72 580.45,1091.95" fill="#8080ff" stroke="#8080ff"/>
<polygon points="592.46,1053.07 592.46,1068.62 580.45,1076.40 568.44,1068.62 568.44,1053.07 580.45,1045.29" fill="#e619ff" stroke="#e619ff"/>
<polygon points="592.46,1006.42 592.46,1021.97 580.45,1029.74 568.44,1021.97 568.44,1006.42 580.45,998.64" fill="#52adff" stroke="#52adff"/>
<polygon points="592.46,913.11 592.46,928.66 580.45,936.44 568.44,928.66 568.44,913.11 580.45,905.33" fill="#00ffff" stroke="#00ffff"/>
<polygon points="616.49,1286.34 616.49,1301.89 604.47,1309.67 592.46,1301.89 592.46,1286.34 604.47,1278.56" fill="#30cfff" stroke="#30cfff"/>
<polygon points="616.49,1239.69 616.49,1255.24 604.47,1263.01 592.46,1255.24 592.46,1239.69 604.47,1231.91" fill="#47b8ff" stroke="#47b8ff"/>
<polygon points="616.49,1193.03 616.49,1208.58 604.47,1216.36 592.46,1208.58 592.46,1193.03 604.47,1185.26" fill="#4fb0ff" stroke="#4fb0ff"/>
<polygon points="616.49,1146.38 616.49,1161.93 604.47,1169.71 592.46,1161.93 592.46,1146.38 604.47,1138.60" fill="#6699ff" stroke="#6699ff"/>
<polygon points="616.49,1099.72 616.49,1115.28 604.47,1123.05 592.46,1115.28 592.46,1099.72 604.47,1091.95" fill="#cc33ff" stroke="#cc33ff"/>
<polygon points="616.49,1053.07 616.49,1068.62 604.47,1076.40 592.46,1068.62 592.46,1053.07 604.47,1045.29" fill="#cc33ff" stroke="#cc33ff"/>
<polygon points="616.49,1006.42 616.49,1021.97 604.47,1029.74 592.46,1021.97 592.46,1006.42 604.47,998.64" fill="#bf40ff" stroke="#bf40ff"/>
<polygon points="616.49,959.76 616.49,975.31 604.47,983.09 592.46,975.31 592.46,959.76 604.47,951.99" fill="#00ffff" stroke="#00ffff"/>
<polygon points="640.51,1193.03 640.51,1208.58 628.50,1216.36 616.49,1208.58 616.49,1193.03 628.50,1185.26" fill="#30cfff" stroke="#30cfff"/>
<polygon points="640.51,1146.38 640.51,1161.93 628.50,1169.71 616.49,1161.93 616.49,1146.38 628.50,1138.60" fill="#946bff" stroke="#946bff"/>
<polygon points="640.51,1099.72 640.51,1115.28 628.50,1123.05 616.49,1115.28 616.49,1099.72 628.50,1091.95" fill="#857aff" stroke="#857aff"/>
<polygon points="640.51,1053.07 640.51,1068.62 628.50,1076.40 616.49,1068.62 616.49,1053.07 628.50,1045.29" fill="#bf40ff" stroke="#bf40ff"/>
<polygon points="640.51,1006.42 640.51,1021.97 628.50,1029.74 616.49,1021.97 616.49,1006.42 628.50,998.64" fill="#6699ff" stroke="#6699ff"/>
<polygon points="640.51,726.49 640.51,742.04 628.50,749.82 616.49,742.04 616.49,726.49 628.50,718.72" fill="#00ffff" stroke="#00ffff"/>
<polygon points="664.54,1146.38 664.54,1161.93 652.52,1169.71 640.51,1161.93 640.51,1146.38 652.52,1138.60" fill="#619eff" stroke="#619eff"/>
<polygon points="664.54,1099.72 664.54,1115.28 652.52,1123.05 640.51,1115.28 640.51,1099.72 652.52,1091.95" fill="#8c73ff" stroke="#8c73ff"/>
<polygon points="664.54,1053.07 664.54,1068.62 652.52,1076.40 640.51,1068.62 640.51,1053.07 652.52,1045.29" fill="#b24dff" stroke="#b24dff"/>
<polygon points="664.54,1006.42 664.54,1021.97 652.52,1029.74 640.51,1021.97 640.51,1006.42 652.52,998.64" fill="#8c73ff" stroke="#8c73ff"/>
<polygon points="664.54,959.76 664.54,975.31 652.52,983.09 640.51,975.31 640.51,959.76 652.52,951.99" fill="#00ffff" stroke="#00ffff"/>
<polygon points="688.56,1146.38 688.56,1161.93 676.55,1169.71 664.54,1161.93 664.54,1146.38 676.55,1138.60" fill="#00ffff" stroke="#00ffff"/>
<polygon points="688.56,1053.07 688.56,1068.62 676.55,1076.40 664.54,1068.62 664.54,1053.07 676.55,1045.29" fill="#8080ff" stroke="#8080ff"/>
<polygon points="688.56,1006.42 688.56,1021.97 676.55,1029.74 664.54,1021.97 664.54,1006.42 676.55,998.64" fill="#8c73ff" stroke="#8c73ff"/>
<polygon points="688.56,959.76 688.56,975.31 676.55,983.09 664.54,975.31 664.54,959.76 676.55,951.99" fill="#9966ff" stroke="#9966ff"/>
<polygon points="712.59,1099.72 712.59,1115.28 700.57,1123.05 688.56,1115.28 688.56,1099.72 700.57,1091.95" fill="#00ffff" stroke="#00ffff"/>
<polygon points="712.59,1006.42 712.59,1021.97 700.57,1029.74 688.56,1021.97 688.56,1006.42 700.57,998.64" fill="#a659ff" stroke="#a659ff"/>
<polygon points="712.59,959.76 712.59,975.31 700.57,983.09 688.56,975.31 688.56,959.76 700.57,951.99" fill="#cc33ff" stroke="#cc33ff"/>
<polygon points="736.61,1006.42 736.61,1021.97 724.60,1029.74 712.59,1021.97 712.59,1006.42 724.60,998.64" fill="#b847ff" stroke="#b847ff"/>
<polygon points="736.61,959.76 736.61,975.31 724.60,983.09 712.59,975.31 712.59,959.76 724.60,951.99" fill="#59a6ff" stroke="#59a6ff"/>
<polygon points="760.64,1053.07 760.64,1068.62 748.62,1076.40 736.61,1068.62 736.61,1053.07 748.62,1045.29" fill="#00ffff" stroke="#00ffff"/>
<polygon points="760.64,1006.42 760.64,1021.97 748.62,1029.74 736.61,1021.97 736.61,1006.42 748.62,998.64" fill="#ff00ff" stroke="#ff00ff"/>
<polygon points="760.64,959.76 760.64,975.31 748.62,983.09 736.61,975.31 736.61,959.76 748.62,951.99" fill="#9966ff" stroke="#9966ff"/>
<polygon points="784.66,1053.07 784.66,1068.62 772.65,1076.40 760.64,1068.62 760.64,1053.07 772.65,1045.29" fill="#1fe0ff" stroke="#1fe0ff"/>
<polygon points="784.66,1006.42 784.66,1021.97 772.65,1029.74 760.64,1021.97 760.64,1006.42 772.65,998.64" fill="#f20dff" stroke="#f20dff"/>
<polygon points="784.66,959.76 784.66,975.31 772.65,983.09 760.64,975.31 760.64,959.76 772.65,951.99" fill="#d926ff" stroke="#d926ff"/>
<polygon points="784.66,913.11 784.66,928.66 772.65,936.44 760.64,928.66 760.64,913.11 772.65,905.33" fill="#00ffff" stroke="#00ffff"/>
<polygon points="784.66,866.45 784.66,882.01 772.65,889.78 760.64,882.01 760.64,866.45 772.65,858.68" fill="#00ffff" stroke="#00ffff"/>
<polygon points="808.69,1053.07 808.69,1068.62 796.67,1076.40 784.66,1068.62 784.66,1053.07 796.67,1045.29" fill="#42bdff" stroke="#42bdff"/>
<polygon points="808.69,1006.42 808.69,1021.97 796.67,1029.74 784.66,1021.97 784.66,1006.42 796.67,998.64" fill="#738cff" stroke="#738cff"/>
<polygon points="808.69,959.76 808.69,975.31 796.67,983.09 784.66,975.31 784.66,959.76 796.67,951.99" fill="#a15eff" stroke="#a15eff"/>
<polygon points="808.69,913.11 808.69,928.66 796.67,936.44 784.66,928.66 784.66,913.11 796.67,905.33" fill="#4cb2ff" stroke="#4cb2ff"/>
<polygon points="808.69,866.45 808.69,882.01 796.67,889.78 784.66,882.01 784.66,866.45 796.67,858.68" fill="#1fe0ff" stroke="#1fe0ff"/>
<polygon points="832.71,1053.07 832.71,1068.62 820.70,1076.40 808.69,1068.62 808.69,1053.07 820.70,1045.29" fill="#1fe0ff" stroke="#1fe0ff"/>
<polygon points="832.71,1006.42 832.71,1021.97 820.70,1029.74 808.69,1021.97 808.69,1006.42 820.70,998.64" fill="#6699ff" stroke="#6699ff"/>
<polygon points="832.71,959.76 832.71,975.31 820.70,983.09 808.69,975.31 808.69,959.76 820.70,951.99" fill="#ff00ff" stroke="#ff00ff"/>
<polygon points="832.71,913.11 832.71,928.66 820.70,936.44 808.69,928.66 808.69,913.11 820.70,905.33" fill="#7887ff" stroke="#7887ff"/>
<polygon points="832.71,866.45 832.71,882.01 820.70,889.78 808.69,882.01 808.69,866.45 820.70,858.68" fill="#6699ff" stroke="#6699ff"/>
<polygon points="856.74,1053.07 856.74,1068.62 844.72,1076.40 832.71,1068.62 832.71,1053.07 844.72,1045.29" fill="#4cb2ff" stroke="#4cb2ff"/>
<polygon points="856.74,1006.42 856.74,1021.97 844.72,1029.74 832.71,1021.97 832.71,1006.42 844.72,998.64" fill="#3dc2ff" stroke="#3dc2ff"/>
<polygon points="856.74,959.76 856.74,975.31 844.72,983.09 832.71,975.31 832.71,959.76 844.72,951.99" fill="#e619ff" stroke="#e619ff"/>
<polygon points="856.74,913.11 856.74,928.66 844.72,936.44 832.71,928.66 832.71,913.11 844.72,905.33" fill="#d12eff" stroke="#d12eff"/>
<polygon points="856.74,866.45 856.74,882.01 844.72,889.78 832.71,882.01 832.71,866.45 844.72,858.68" fill="#4cb2ff" stroke="#4cb2ff"/>
<polygon points="880.76,1099.72 880.76,1115.28 868.75,1123.05 856.74,1115.28 856.74,1099.72 868.75,1091.95" fill="#00ffff" stroke="#00ffff"/>
<polygon points="880.76,1053.07 880.76,1068.62 868.75,1076.40 856.74,1068.62 856.74,1053.07 868.75,1045.29" fill="#3dc2ff" stroke="#3dc2ff"/>
<polygon points="880.76,1006.42 880.76,1021.97 868.75,1029.74 856.74,1021.97 856.74,1006.42 868.75,998.64" fill="#26d9ff" stroke="#26d9ff"/>
<polygon points="880.76,959.76 880.76,975.31 868.75,983.09 856.74,975.31 856.74,959.76 868.75,951.99" fill="#a659ff" stroke="#a659ff"/>
<polygon points="880.76,913.11 880.76,928.66 868.75,936.44 856.74,928.66 856.74,913.11 868.75,905.33" fill="#d926ff" stroke="#d926ff"/>
<polygon points="880.76,866.45 880.76,882.01 868.75,889.78 856.74,882.01 856.74,866.45 868.75,858.68" fill="#ff00ff" stroke="#ff00ff"/>
<polygon points="880.76,819.80 880.76,835.35 868.75,843.13 856.74,835.35 856.74,819.80 868.75,812.02" fill="#57a8ff" stroke="#57a8ff"/>
<polygon points="880.76,726.49 880.76,742.04 868.75,749.82 856.74,742.04 856.74,726.49 868.75,718.72" fill="#00ffff" stroke="#00ffff"/>
<polygon points="880.76,633.18 880.76,648.74 868.75,656.51 856.74,648.74 856.74,633.18 868.75,625.41" fill="#00ffff" stroke="#00ffff"/>
<polygon points="904.79,1193.03 904.79,1208.58 892.77,1216.36 880.76,1208.58 880.76,1193.03 892.77,1185.26" fill="#00ffff" stroke="#00ffff"/>
<polygon points="904.79,1146.38 904.79,1161.93 892.77,1169.71 880.76,1161.93 880.76,1146.38 892.77,1138.60" fill="#26d9ff" stroke="#26d9ff"/>
<polygon points="904.79,1099.72 904.79,1115.28 892.77,1123.05 880.76,1115.28 880.76,1099.72 892.77,1091.95" fill="#00ffff" stroke="#00ffff"/>
<polygon points="904.79,1053.07 904.79,1068.62 892.77,1076.40 880.76,1068.62 880.76,1053.07 892.77,1045.29" fill="#5ca3ff" stroke="#5ca3ff"/>
<polygon points="904.79,1006.42 904.79,1021.97 892.77,1029.74 880.76,1021.97 880.76,1006.42 892.77,998.64" fill="#9966ff" stroke="#9966ff"/>
<polygon points="904.79,959.76 904.79,975.31 892.77,983.09 880.76,975.31 880.76,959.76 892.77,951.99" fill="#d926ff" stroke="#d926ff"/>
<polygon points="904.79,913.11 904.79,928.66 892.77,936.44 880.76,928.66 880.76,913.11 892.77,905.33" fill="#d926ff" stroke="#d926ff"/>
<polygon points="904.79,866.45 904.79,882.01 892.77,889.78 880.76,882.01 880.76,866.45 892.77,858.68" fill="#b24dff" stroke="#b24dff"/>
<polygon points="904.79,819.80 904.79,835.35 892.77,843.13 880.76,835.35 880.76,819.80 892.77,812.02" fill="#52adff" stroke="#52adff"/>
<polygon points="904.79,773.15 904.79,788.70 892.77,796.47 880.76,788.70 880.76,773.15 892.77,765.37" fill="#7887ff" stroke="#7887ff"/>
<polygon points="904.79,726.49 904.79,742.04 892.77,749.82 880.76,742.04 880.76,726.49 892.77,718.72" fill="#6699ff" stroke="#6699ff"/>
<polygon points="904.79,679.84 904.79,695.39 892.77,703.17 880.76,695.39 880.76,679.84 892.77,672.06" fill="#9966ff" stroke="#9966ff"/>
<polygon points="928.81,1239.69 928.81,1255.24 916.80,1263.01 904.79,1255.24 904.79,1239.69 916.80,1231.91" fill="#00ffff" stroke="#00ffff"/>
<polygon points="928.81,1193.03 928.81,1208.58 916.80,1216.36 904.79,1208.58 904.79,1193.03 916.80,1185.26" fill="#26d9ff" stroke="#26d9ff"/>
<polygon points="928.81,1146.38 928.81,1161.93 916.80,1169.71 904.79,1161.93 904.79,1146.38 916.80,1138.60" fill="#00ffff" stroke="#00ffff"/>
<polygon points="928.81,1099.72 928.81,1115.28 916.80,1123.05 904.79,1115.28 904.79,1099.72 916.80,1091.95" fill="#00ffff" stroke="#00ffff"/>
<polygon points="928.81,1006.42 928.81,1021.97 916.80,1029.74 904.79,1021.97 904.79,1006.42 916.80,998.64" fill="#6699ff" stroke="#6699ff"/>
<polygon points="928.81,959.76 928.81,975.31 916.80,983.09 904.79,975.31 904.79,959.76 916.80,951.99" fill="#a659ff" stroke="#a659ff"/>
<polygon points="928.81,913.11 928.81,928.66 916.80,936.44 904.79,928.66 904.79,913.11 916.80,905.33" fill="#a659ff" stroke="#a659ff"/>
<polygon points="928.81,866.45 928.81,882.01 916.80,889.78 904.79,882.01 904.79,866.45 916.80,858.68" fill="#6699ff" stroke="#6699ff"/>
<polygon points="928.81,819.80 928.81,835.35 916.80,843.13 904.79,835.35 904.79,819.80 916.80,812.02" fill="#619eff" stroke="#619eff"/>
<polygon points="928.81,773.15 928.81,788.70 916.80,796.47 904.79,788.70 904.79,773.15 916.80,765.37" fill="#7887ff" stroke="#7887ff"/>
<polygon points="928.81,726.49 928.81,742.04 916.80,749.82 904.79,742.04 904.79,726.49 916.80,718.72" fill="#57a8ff" stroke="#57a8ff"/>
<polygon points="928.81,679.84 928.81,695.39 916.80,703.17 904.79,695.39 904.79,679.84 916.80,672.06" fill="#1fe0ff" stroke="#1fe0ff"/>
<polygon points="928.81,633.18 928.81,648.74 916.80,656.51 904.79,648.74 904.79,633.18 916.80,625.41" fill="#00ffff" stroke="#00ffff"/>
<polygon points="952.84,1332.99 952.84,1348.55 940.82,1356.32 928.81,1348.55 928.81,1332.99 940.82,1325.22" fill="#00ffff" stroke="#00ffff"/>
<polygon points="952.84,1239.69 952.84,1255.24 940.82,1263.01 928.81,1255.24 928.81,1239.69 940.82,1231.91" fill="#33ccff" stroke="#33ccff"/>
<polygon points="952.84,1053.07 952.84,1068.62 940.82,1076.40 928.81,1068.62 928.81,1053.07 940.82,1045.29" fill="#00ffff" stroke="#00ffff"/>
<polygon points="952.84,1006.42 952.84,1021.97 940.82,1029.74 928.81,1021.97 928.81,1006.42 940.82,998.64" fill="#4cb2ff" stroke="#4cb2ff"/>
<polygon points="952.84,959.76 952.84,975.31 940.82,983.09 928.81,975.31 928.81,959.76 940.82,951.99" fill="#6b94ff" stroke="#6b94ff"/>
<polygon points="952.84,913.11 952.84,928.66 940.82,936.44 928.81,928.66 928.81,913.11 940.82,905.33" fill="#ff00ff" stroke="#ff00ff"/>
<polygon points="952.84,866.45 952.84,882.01 940.82,889.78 928.81,882.01 928.81,866.45 940.82,858.68" fill="#619eff" stroke="#619eff"/>
<polygon points="952.84,819.80 952.84,835.35 940.82,843.13 928.81,835.35 928.81,819.80 940.82,812.02" fill="#a659ff" stroke="#a659ff"/>
<polygon points="952.84,773.15 952.84,788.70 940.82,796.47 928.81,788.70 928.81,773.15 940.82,765.37" fill="#857aff" stroke="#857aff"/>
<polygon points="952.84,726.49 952.84,742.04 940.82,749.82 928.81,742.04 928.81,726.49 940.82,718.72" fill="#738cff" stroke="#738cff"/>
<polygon points="952.84,679.84 952.84,695.39 940.82,703.17 928.81,695.39 928.81,679.84 940.82,672.06" fill="#738cff" stroke="#738cff"/>
<polygon points="952.84,633.18 952.84,648.74 940.82,656.51 928.81,648.74 928.81,633.18 940.82,625.41" fill="#00ffff" stroke="#00ffff"/>
<polygon points="976.86,1332.99 976.86,1348.55 964.85,1356.32 952.84,1348.55 952.84,1332.99 964.85,1325.22" fill="#00ffff" stroke="#00ffff"/>
<polygon points="976.86,1286.34 976.86,1301.89 964.85,1309.67 952.84,1301.89 952.84,1286.34 964.85,1278.56" fill="#47b8ff" stroke="#47b8ff"/>
<polygon points="976.86,1146.38 976.86,1161.93 964.85,1169.71 952.84,1161.93 952.84,1146.38 964.85,1138.60" fill="#00ffff" stroke="#00ffff"/>
<polygon points="976.86,1053.07 976.86,1068.62 964.85,1076.40 952.84,1068.62 952.84,1053.07 964.85,1045.29" fill="#1fe0ff" stroke="#1fe0ff"/>
<polygon points="976.86,1006.42 976.86,1021.97 964.85,1029.74 952.84,1021.97 952.84,1006.42 964.85,998.64" fill="#57a8ff" stroke="#57a8ff"/>
<polygon points="976.86,959.76 976.86,975.31 964.85,983.09 952.84,975.31 952.84,959.76 964.85,951.99" fill="#3dc2ff" stroke="#3dc2ff"/>
<polygon points="976.86,913.11 976.86,928.66 964.85,936.44 952.84,928.66 952.84,913.11 964.85,905.33" fill="#bf40ff" stroke="#bf40ff"/>
<polygon points="976.86,866.45 976.86,882.01 964.85,889.78 952.84,882.01 952.84,866.45 964.85,858.68" fill="#9966ff" stroke="#9966ff"/>
<polygon points="976.86,819.80 976.86,835.35 964.85,843.13 952.84,835.35 952.84,819.80 964.85,812.02" fill="#cc33ff" stroke="#cc33ff"/>
<polygon points="976.86,773.15 976.86,788.70 964.85,796.47 952.84,788.70 952.84,773.15 964.85,765.37" fill="#738cff" stroke="#738cff"/>
<polygon points="976.86,726.49 976.86,742.04 964.85,749.82 952.84,742.04 952.84,726.49 964.85,718.72" fill="#7887ff" stroke="#7887ff"/>
<polygon points="976.86,679.84 976.86,695.39 964.85,703.17 952.84,695.39 952.84,679.84 964.85,672.06" fill="#619eff" stroke="#619eff"/>
<polygon points="976.86,633.18 976.86,648.74 964.85,656.51 952.84,648.74 952.84,633.18 964.85,625.41" fill="#5ca3ff" stroke="#5ca3ff"/>
<polygon points="976.86,586.53 976.86,602.08 964.85,609.86 952.84,602.08 952.84,586.53 964.85,578.75" fill="#7887ff" stroke="#7887ff"/>
<polygon points="976.86,539.88 976.86,555.43 964.85,563.20 952.84,555.43 952.84,539.88 964.85,532.10" fill="#3dc2ff" stroke="#3dc2ff"/>
<polygon points="1000.89,1286.34 1000.89,1301.89 988.87,1309.67 976.86,1301.89 976.86,1286.34 988.87,1278.56" fill="#7887ff" stroke="#7887ff"/>
<polygon points="1000.89,1239.69 1000.89,1255.24 988.87,1263.01 976.86,1255.24 976.86,1239.69 988.87,1231.91" fill="#42bdff" stroke="#42bdff"/>
<polygon points="1000.89,1146.38 1000.89,1161.93 988.87,1169.71 976.86,1161.93 976.86,1146.38 988.87,1138.60" fill="#00ffff" stroke="#00ffff"/>
<polygon points="1000.89,1099.72 1000.89,1115.28 988.87,1123.05 976.86,1115.28 976.86,1099.72 988.87,1091.95" fill="#1fe0ff" stroke="#1fe0ff"/>
<polygon points="1000.89,1006.42 1000.89,1021.97 988.87,1029.74 976.86,1021.97 976.86,1006.42 988.87,998.64" fill="#1fe0ff" stroke="#1fe0ff"/>
<polygon points="1000.89,959.76 1000.89,975.31 988.87,983.09 976.86,975.31 976.86,959.76 988.87,951.99" fill="#26d9ff" stroke="#26d9ff"/>
<polygon points="1000.89,913.11 1000.89,928.66 988.87,936.44 976.86,928.66 976.86,913.11 988.87,905.33" fill="#8080ff" stroke="#8080ff"/>
<polygon points="1000.89,866.45 1000.89,882.01 988.87,889.78 976.86,882.01 976.86,866.45 988.87,858.68" fill="#a659ff" stroke="#a659ff"/>
<polygon points="1000.89,819.80 1000.89,835.35 988.87,843.13 976.86,835.35 976.86,819.80 988.87,812.02" fill="#ad52ff" stroke="#ad52ff"/>
<polygon points="1000.89,773.15 1000.89,788.70 988.87,796.47 976.86,788.70 976.86,773.15 988.87,765.37" fill="#a659ff" stroke="#a659ff"/>
<polygon points="1000.89,726.49 1000.89,742.04 988.87,749.82 976.86,742.04 976.86,726.49 988.87,718.72" fill="#9e61ff" stroke="#9e61ff"/>
<polygon points="1000.89,679.84 1000.89,695.39 988.87,703.17 976.86,695.39 976.86,679.84 988.87,672.06" fill="#8c73ff" stroke="#8c73ff"/>
<polygon points="1000.89,633.18 1000.89,648.74 988.87,656.51 976.86,648.74 976.86,633.18 988.87,625.41" fill="#619eff" stroke="#619eff"/>
<polygon points="1000.89,586.53 1000.89,602.08 988.87,609.86 976.86,602.08 976.86,586.53 988.87,578.75" fill="#57a8ff" stroke="#57a8ff"/>
<polygon points="1024.91,1332.99 1024.91,1348.55 1012.90,1356.32 1000.89,1348.55 1000.89,1332.99 1012.90,1325.22" fill="#00ffff" stroke="#00ffff"/>
<polygon points="1024.91,1286.34 1024.91,1301.89 1012.90,1309.67 1000.89,1301.89 1000.89,1286.34 1012.90,1278.56" fill="#738cff" stroke="#738cff"/>
<polygon points="1024.91,1146.38 1024.91,1161.93 1012.90,1169.71 1000.89,1161.93 1000.89,1146.38 1012.90,1138.60" fill="#1fe0ff" stroke="#1fe0ff"/>
<polygon points="1024.91,959.76 1024.91,975.31 1012.90,983.09 1000.89,975.31 1000.89,959.76 1012.90,951.99" fill="#00ffff" stroke="#00ffff"/>
<polygon points="1024.91,913.11 1024.91,928.66 1012.90,936.44 1000.89,928.66 1000.89,913.11 1012.90,905.33" fill="#1fe0ff" stroke="#1fe0ff"/>
<polygon points="1024.91,866.45 1024.91,882.01 1012.90,889.78 1000.89,882.01 1000.89,866.45 1012.90,858.68" fill="#00ffff" stroke="#00ffff"/>
<polygon points="1024.91,819.80 1024.91,835.35 1012.90,843.13 1000.89,835.35 1000.89,819.80 1012.90,812.02" fill="#619eff" stroke="#619eff"/>
<polygon points="1024.91,773.15 1024.91,788.70 1012.90,796.47 1000.89,788.70 1000.89,773.15 1012.90,765.37" fill="#3dc2ff" stroke="#3dc2ff"/>
<polygon points="1024.91,726.49 1024.91,742.04 1012.90,749.82 1000.89,742.04 1000.89,726.49 1012.90,718.72" fill="#8c73ff" stroke="#8c73ff"/>
<polygon points="1024.91,679.84 1024.91,695.39 1012.90,703.17 1000.89,695.39 1000.89,679.84 1012.90,672.06" fill="#b24dff" stroke="#b24dff"/>
<polygon points="1024.91,633.18 1024.91,648.74 1012.90,656.51 1000.89,648.74 1000.89,633.18 1012.90,625.41" fill="#42bdff" stroke="#42bdff"/>
<polygon points="1048.94,959.76 1048.94,975.31 1036.92,983.09 1024.91,975.31 1024.91,959.76 1036.92,951.99" fill="#00ffff" stroke="#00ffff"/>
<polygon points="1048.94,819.80 1048.94,835.35 1036.92,843.13 1024.91,835.35 1024.91,819.80 1036.92,812.02" fill="#00ffff" stroke="#00ffff"/>
<polygon points="1048.94,773.15 1048.94,788.70 1036.92,796.47 1024.91,788.70 1024.91,773.15 1036.92,765.37" fill="#5ca3ff" stroke="#5ca3ff"/>
<polygon points="1048.94,726.49 1048.94,742.04 1036.92,749.82 1024.91,742.04 1024.91,726.49 1036.92,718.72" fill="#619eff" stroke="#619eff"/>
<polygon points="1048.94,679.84 1048.94,695.39 1036.92,703.17 1024.91,695.39 1024.91,679.84 1036.92,672.06" fill="#8c73ff" stroke="#8c73ff"/>
<polygon points="1048.94,633.18 1048.94,648.74 1036.92,656.51 1024.91,648.74 1024.91,633.18 1036.92,625.41" fill="#38c7ff" stroke="#38c7ff"/>
<polygon points="1072.96,866.45 1072.96,882.01 1060.95,889.78 1048.94,882.01 1048.94,866.45 1060.95,858.68" fill="#00ffff" stroke="#00ffff"/>
<polygon points="1072.96,819.80 1072.96,835.35 1060.95,843.13 1048.94,835.35 1048.94,819.80 1060.95,812.02" fill="#42bdff" stroke="#42bdff"/>
<polygon points="1072.96,773.15 1072.96,788.70 1060.95,796.47 1048.94,788.70 1048.94,773.15 1060.95,765.37" fill="#00ffff" stroke="#00ffff"/>
<polygon points="1072.96,726.49 1072.96,742.04 1060.95,749.82 1048.94,742.04 1048.94,726.49 1060.95,718.72" fill="#3dc2ff" stroke="#3dc2ff"/>
<polygon points="1072.96,679.84 1072.96,695.39 1060.95,703.17 1048.94,695.39 1048.94,679.84 1060.95,672.06" fill="#8c73ff" stroke="#8c73ff"/>
<polygon points="1072.96,633.18 1072.96,648.74 1060.95,656.51 1048.94,648.74 1048.94,633.18 1060.95,625.41" fill="#6699ff" stroke="#6699ff"/>
<polygon points="1072.96,539.88 1072.96,555.43 1060.95,563.20 1048.94,555.43 1048.94,539.88 1060.95,532.10" fill="#00ffff" stroke="#00ffff"/>
<polygon points="1096.99,1566.26 1096.99,1581.82 1084.97,1589.59 1072.96,1581.82 1072.96,1566.26 1084.97,1558.49" fill="#1fe0ff" stroke="#1fe0ff"/>
<polygon points="1096.99,773.15 1096.99,788.70 1084.97,796.47 1072.96,788.70 1072.96,773.15 1084.97,765.37" fill="#30cfff" stroke="#30cfff"/>
<polygon points="1096.99,726.49 1096.99,742.04 1084.97,749.82 1072.96,742.04 1072.96,726.49 1084.97,718.72" fill="#1fe0ff" stroke="#1fe0ff"/>
<polygon points="1096.99,679.84 1096.99,695.39 1084.97,703.17 1072.96,695.39 1072.96,679.84 1084.97,672.06" fill="#8c73ff" stroke="#8c73ff"/>
<polygon points="1096.99,633.18 1096.99,648.74 1084.97,656.51 1072.96,648.74 1072.96,633.18 1084.97,625.41" fill="#6699ff" stroke="#6699ff"/>
<polygon points="1121.01,679.84 1121.01,695.39 1109.00,703.17 1096.99,695.39 1096.99,679.84 1109.00,672.06" fill="#57a8ff" stroke="#57a8ff"/>
<polygon points="1121.01,633.18 1121.01,648.74 1109.00,656.51 1096.99,648.74 1096.99,633.18 1109.00,625.41" fill="#619eff" stroke="#619eff"/>
<polygon points="1145.04,726.49 1145.04,742.04 1133.03,749.82 1121.01,742.04 1121.01,726.49 1133.03,718.72" fill="#00ffff" stroke="#00ffff"/>
<polygon points="1145.04,679.84 1145.04,695.39 1133.03,703.17 1121.01,695.39 1121.01,679.84 1133.03,672.06" fill="#00ffff" stroke="#00ffff"/>
<polygon points="1145.04,633.18 1145.04,648.74 1133.03,656.51 1121.01,648.74 1121.01,633.18 1133.03,625.41" fill="#3dc2ff" stroke="#3dc2ff"/>
<polygon points="1169.06,633.18 1169.06,648.74 1157.05,656.51 1145.04,648.74 1145.04,633.18 1157.05,625.41" fill="#619eff" stroke="#619eff"/>
<polygon points="1193.09,633.18 1193.09,648.74 1181.07,656.51 1169.06,648.74 1169.06,633.18 1181.07,625.41" fill="#8080ff" stroke="#8080ff"/>
<polygon points="1193.09,586.53 1193.09,602.08 1181.07,609.86 1169.06,602.08 1169.06,586.53 1181.07,578.75" fill="#26d9ff" stroke="#26d9ff"/>
<polygon points="1217.11,633.18 1217.11,648.74 1205.10,656.51 1193.09,648.74 1193.09,633.18 1205.10,625.41" fill="#00ffff" stroke="#00ffff"/>
<polygon points="1241.14,586.53 1241.14,602.08 1229.12,609.86 1217.11,602.08 1217.11,586.53 1229.12,578.75" fill="#30cfff" stroke="#30cfff"/>
<polygon points="1289.19,586.53 1289.19,602.08 1277.17,609.86 1265.16,602.08 1265.16,586.53 1277.17,578.75" fill="#00ffff" stroke="#00ffff"/>
<polygon points="1313.21,539.88 1313.21,555.43 1301.20,563.20 1289.19,555.43 1289.19,539.88 1301.20,532.10" fill="#00ffff" stroke="#00ffff"/>
<polygon points="1337.24,539.88 1337.24,555.43 1325.22,563.20 1313.21,555.43 1313.21,539.88 1325.22,532.10" fill="#30cfff" stroke="#30cfff"/>
<polygon points="1361.26,539.88 1361.26,555.43 1349.25,563.20 1337.24,555.43 1337.24,539.88 1349.25,532.10" fill="#00ffff" stroke="#00ffff"/>
<polygon points="1385.29,539.88 1385.29,555.43 1373.28,563.20 1361.26,555.43 1361.26,539.88 1373.28,532.10" fill="#1fe0ff" stroke="#1fe0ff"/>
</g>
<g stroke-width="4.17" stroke-dasharray="15.42 6.67" fill="none">
<line x1="361" y1="1630.5" x2="361" y2="321.67" stroke="#ffc0cb"/>
<line x1="513" y1="1630.5" x2="513" y2="321.67" stroke="#ee82ee"/>
<line x1="636" y1="1630.5" x2="636" y2="321.67" stroke="#a52a2a"/>
<line x1="768" y1="1630.5" x2="768" y2="321.67" stroke="#0000ff"/>
<line x1="805" y1="1630.5" x2="805" y2="321.67" stroke="#ffa500"/>
<line x1="907" y1="1630.5" x2="907" y2="321.67" stroke="#87ceeb"/>
<line x1="943" y1="1630.5" x2="943" y2="321.67" stroke="#ff0000"/>
<line x1="969" y1="1630.5" x2="969" y2="321.67" stroke="#808080"/>
<line x1="1057" y1="1630.5" x2="1057" y2="321.67" stroke="#008000"/>
<line x1="183.0" y1="586" x2="1483.3" y2="586" stroke="#808080"/>
<line x1="183.0" y1="677" x2="1483.3" y2="677" stroke="#008000"/>
<line x1="183.0" y1="854" x2="1483.3" y2="854" stroke="#ff0000"/>
<line x1="183.0" y1="917" x2="1483.3" y2="917" stroke="#ffa500"/>
<line x1="183.0" y1="950" x2="1483.3" y2="950" stroke="#87ceeb"/>
<line x1="183.0" y1="987" x2="1483.3" y2="987" stroke="#0000ff"/>
<line x1="183.0" y1="1091" x2="1483.3" y2="1091" stroke="#a52a2a"/>
<line x1="183.0" y1="1305" x2="1483.3" y2="1305" stroke="#ee82ee"/>
<line x1="183.0" y1="1370" x2="1483.3" y2="1370" stroke="#ffc0cb"/>
</g>
<g fill="#5799c7" stroke="#000" stroke-width="2.08" stroke-linejoin="miter">
<rect x="258.00" y="251.50" width="20.26" height="1.00"/>
<rect x="278.26" y="251.50" width="20.26" height="1.00"/>
<rect x="298.52" y="249.75" width="20.26" height="2.75"/>
<rect x="318.78" y="244.75" width="20.26" height="7.75"/>
<rect x="339.04" y="243.75" width="20.26" height="8.75"/>
<rect x="359.30" y="244.00" width="20.26" height="8.50"/>
<rect x="379.56" y="236.75" width="20.26" height="15.75"/>
<rect x="399.82" y="247.75" width="20.26" height="4.75"/>
<rect x="420.08" y="242.75" width="20.26" height="9.75"/>
<rect x="440.34" y="247.75" width="20.26" height="4.75"/>
<rect x="460.60" y="251.00" width="20.26" height="1.50"/>
<rect x="480.86" y="251.00" width="20.26" height="1.50"/>
<rect x="501.12" y="247.75" width="20.26" height="4.75"/>
<rect x="521.38" y="246.50" width="20.26" height="6.00"/>
<rect x="541.64" y="236.75" width="20.26" height="15.75"/>
<rect x="561.90" y="230.50" width="20.26" height="22.00"/>
<rect x="582.16" y="116.00" width="20.26" height="136.50"/>
<rect x="602.42" y="111.00" width="20.26" height="141.50"/>
<rect x="622.68" y="137.00" width="20.26" height="115.50"/>
<rect x="642.94" y="180.00" width="20.26" height="72.50"/>
<rect x="663.20" y="197.75" width="20.26" height="54.75"/>
<rect x="683.46" y="200.00" width="20.26" height="52.50"/>
<rect x="703.72" y="224.75" width="20.26" height="27.75"/>
<rect x="723.98" y="223.00" width="20.26" height="29.50"/>
<rect x="744.24" y="76.75" width="20.26" height="175.75"/>
<rect x="764.50" y="138.00" width="20.26" height="114.50"/>
<rect x="784.76" y="168.00" width="20.26" height="84.50"/>
<rect x="805.02" y="113.75" width="20.26" height="138.75"/>
<rect x="825.28" y="82.00" width="20.26" height="170.50"/>
<rect x="845.54" y="110.25" width="20.26" height="142.25"/>
<rect x="865.80" y="55.75" width="20.26" height="196.75"/>
<rect x="886.06" y="87.00" width="20.26" height="165.50"/>
<rect x="906.32" y="137.00" width="20.26" height="115.50"/>
<rect x="926.58" y="107.00" width="20.26" height="145.50"/>
<rect x="946.84" y="94.00" width="20.26" height="158.50"/>
<rect x="967.10" y="97.00" width="20.26" height="155.50"/>
<rect x="987.36" y="127.90" width="20.26" height="124.60"/>
<rect x="1007.62" y="207.00" width="20.26" height="45.50"/>
<rect x="1027.88" y="220.10" width="20.26" height="32.40"/>
<rect x="1048.14" y="221.00" width="20.26" height="31.50"/>
<rect x="1068.40" y="230.80" width="20.26" height="21.70"/>
<rect x="1088.66" y="240.00" width="20.26" height="12.50"/>
<rect x="1108.92" y="242.70" width="20.26" height="9.80"/>
<rect x="1129.18" y="222.90" width="20.26" height="29.60"/>
<rect x="1149.44" y="246.70" width="20.26" height="5.80"/>
<rect x="1169.70" y="246.10" width="20.26" height="6.40"/>
<rect x="1189.96" y="251.90" width="20.26" height="0.60"/>
<rect x="1210.22" y="251.90" width="20.26" height="0.60"/>
<rect x="1230.48" y="251.90" width="20.26" height="0.60"/>
<rect x="1250.74" y="252.10" width="20.26" height="0.40"/>
<rect x="1271.00" y="251.30" width="20.26" height="1.20"/>
<rect x="1291.26" y="252.00" width="20.26" height="0.50"/>
<rect x="1311.52" y="251.50" width="20.26" height="1.00"/>
<rect x="1331.78" y="251.50" width="20.26" height="1.00"/>
<rect x="1352.04" y="251.90" width="20.26" height="0.60"/>
<rect x="1372.30" y="252.00" width="20.26" height="0.50"/>
<rect x="1392.56" y="252.00" width="20.26" height="0.50"/>
<rect x="1412.82" y="251.70" width="20.26" height="0.80"/>
</g>
<g fill="#5799c7" stroke="#000" stroke-width="1.26" stroke-linejoin="miter">
<rect x="1543.60" y="519.50" width="2.25" height="12.59"/>
<rect x="1543.60" y="532.09" width="3.50" height="12.59"/>
<rect x="1543.60" y="582.47" width="3.00" height="12.59"/>
<rect x="1543.60" y="595.06" width="3.00" height="12.59"/>
<rect x="1543.60" y="607.66" width="3.00" height="12.59"/>
<rect x="1543.60" y="620.25" width="11.50" height="12.59"/>
<rect x="1543.60" y="632.85" width="15.25" height="12.59"/>
<rect x="1543.60" y="645.44" width="17.50" height="12.59"/>
<rect x="1543.60" y="658.03" width="61.50" height="12.59"/>
<rect x="1543.60" y="670.63" width="33.25" height="12.59"/>
<rect x="1543.60" y="683.22" width="39.50" height="12.59"/>
<rect x="1543.60" y="695.82" width="51.50" height="12.59"/>
<rect x="1543.60" y="708.41" width="34.50" height="12.59"/>
<rect x="1543.60" y="721.00" width="23.25" height="12.59"/>
<rect x="1543.60" y="733.60" width="18.50" height="12.59"/>
<rect x="1543.60" y="746.19" width="10.25" height="12.59"/>
<rect x="1543.60" y="758.79" width="8.25" height="12.59"/>
<rect x="1543.60" y="771.38" width="18.50" height="12.59"/>
<rect x="1543.60" y="783.97" width="31.50" height="12.59"/>
<rect x="1543.60" y="796.57" width="30.50" height="12.59"/>
<rect x="1543.60" y="809.16" width="26.50" height="12.59"/>
<rect x="1543.60" y="821.76" width="55.50" height="12.59"/>
<rect x="1543.60" y="834.35" width="36.25" height="12.59"/>
<rect x="1543.60" y="846.94" width="28.50" height="12.59"/>
<rect x="1543.60" y="859.54" width="31.50" height="12.59"/>
<rect x="1543.60" y="872.13" width="95.50" height="12.59"/>
<rect x="1543.60" y="884.73" width="189.50" height="12.59"/>
<rect x="1543.60" y="897.32" width="55.50" height="12.59"/>
<rect x="1543.60" y="909.91" width="160.50" height="12.59"/>
<rect x="1543.60" y="922.51" width="118.50" height="12.59"/>
<rect x="1543.60" y="935.10" width="160.50" height="12.59"/>
<rect x="1543.60" y="947.70" width="116.25" height="12.59"/>
<rect x="1543.60" y="960.29" width="155.25" height="12.59"/>
<rect x="1543.60" y="972.88" width="201.50" height="12.59"/>
<rect x="1543.60" y="985.48" width="77.25" height="12.59"/>
<rect x="1543.60" y="998.07" width="158.50" height="12.59"/>
<rect x="1543.60" y="1010.67" width="140.50" height="12.59"/>
<rect x="1543.60" y="1023.26" width="90.25" height="12.59"/>
<rect x="1543.60" y="1035.85" width="106.25" height="12.59"/>
<rect x="1543.60" y="1048.45" width="67.25" height="12.59"/>
<rect x="1543.60" y="1061.04" width="81.25" height="12.59"/>
<rect x="1543.60" y="1073.64" width="45.25" height="12.59"/>
<rect x="1543.60" y="1086.23" width="59.25" height="12.59"/>
<rect x="1543.60" y="1098.82" width="40.25" height="12.59"/>
<rect x="1543.60" y="1111.42" width="24.25" height="12.59"/>
<rect x="1543.60" y="1124.01" width="13.50" height="12.59"/>
<rect x="1543.60" y="1136.61" width="11.50" height="12.59"/>
<rect x="1543.60" y="1149.20" width="11.50" height="12.59"/>
<rect x="1543.60" y="1161.79" width="10.25" height="12.59"/>
<rect x="1543.60" y="1174.39" width="13.50" height="12.59"/>
<rect x="1543.60" y="1186.98" width="7.50" height="12.59"/>
<rect x="1543.60" y="1199.58" width="4.25" height="12.59"/>
<rect x="1543.60" y="1212.17" width="4.25" height="12.59"/>
<rect x="1543.60" y="1224.76" width="6.50" height="12.59"/>
<rect x="1543.60" y="1237.36" width="5.50" height="12.59"/>
<rect x="1543.60" y="1249.95" width="3.00" height="12.59"/>
<rect x="1543.60" y="1262.55" width="6.50" height="12.59"/>
<rect x="1543.60" y="1275.14" width="5.25" height="12.59"/>
<rect x="1543.60" y="1287.73" width="12.50" height="12.59"/>
<rect x="1543.60" y="1300.33" width="3.00" height="12.59"/>
<rect x="1543.60" y="1312.92" width="3.25" height="12.59"/>
<rect x="1543.60" y="1325.52" width="2.00" height="12.59"/>
<rect x="1543.60" y="1338.11" width="4.50" height="12.59"/>
<rect x="1543.60" y="1350.70" width="13.75" height="12.59"/>
<rect x="1543.60" y="1363.30" width="14.75" height="12.59"/>
<rect x="1543.60" y="1375.89" width="10.50" height="12.59"/>
<rect x="1543.60" y="1388.49" width="6.75" height="12.59"/>
<rect x="1543.60" y="1401.08" width="1.75" height="12.59"/>
<rect x="1543.60" y="1413.67" width="2.50" height="12.59"/>
</g>
<g stroke="#000" stroke-width="3.33" fill="none" stroke-linecap="square">
<path d="M183.5,321.67 V1630.5 H1483.3"/>
<path d="M183.5,45.4 V252.5 H1483.3"/>
<path d="M1543.6,321.67 V1630.5 H1755.1"/>
</g>
<g stroke="#000" stroke-width="3.33" fill="none">
<line x1="264.40" y1="1630.5" x2="264.40" y2="1645.6"/>
<line x1="264.40" y1="252.5" x2="264.40" y2="267.6"/>
<line x1="427.40" y1="1630.5" x2="427.40" y2="1645.6"/>
<line x1="427.40" y1="252.5" x2="427.40" y2="267.6"/>
<line x1="589.40" y1="1630.5" x2="589.40" y2="1645.6"/>
<line x1="589.40" y1="252.5" x2="589.40" y2="267.6"/>
<line x1="752.40" y1="1630.5" x2="752.40" y2="1645.6"/>
<line x1="752.40" y1="252.5" x2="752.40" y2="267.6"/>
<line x1="914.40" y1="1630.5" x2="914.40" y2="1645.6"/>
<line x1="914.40" y1="252.5" x2="914.40" y2="267.6"/>
<line x1="1077.40" y1="1630.5" x2="1077.40" y2="1645.6"/>
<line x1="1077.40" y1="252.5" x2="1077.40" y2="267.6"/>
<line x1="1239.40" y1="1630.5" x2="1239.40" y2="1645.6"/>
<line x1="1239.40" y1="252.5" x2="1239.40" y2="267.6"/>
<line x1="1402.40" y1="1630.5" x2="1402.40" y2="1645.6"/>
<line x1="1402.40" y1="252.5" x2="1402.40" y2="267.6"/>
<line x1="183.5" y1="1537.40" x2="168.4" y2="1537.40"/>
<line x1="1543.6" y1="1537.40" x2="1528.5" y2="1537.40"/>
<line x1="183.5" y1="1350.40" x2="168.4" y2="1350.40"/>
<line x1="1543.6" y1="1350.40" x2="1528.5" y2="1350.40"/>
<line x1="183.5" y1="1163.40" x2="168.4" y2="1163.40"/>
<line x1="1543.6" y1="1163.40" x2="1528.5" y2="1163.40"/>
<line x1="183.5" y1="976.40" x2="168.4" y2="976.40"/>
<line x1="1543.6" y1="976.40" x2="1528.5" y2="976.40"/>
<line x1="183.5" y1="789.40" x2="168.4" y2="789.40"/>
<line x1="1543.6" y1="789.40" x2="1528.5" y2="789.40"/>
<line x1="183.5" y1="601.40" x2="168.4" y2="601.40"/>
<line x1="1543.6" y1="601.40" x2="1528.5" y2="601.40"/>
<line x1="183.5" y1="414.40" x2="168.4" y2="414.40"/>
<line x1="1543.6" y1="414.40" x2="1528.5" y2="414.40"/>
<line x1="183.5" y1="252.50" x2="168.4" y2="252.50"/>
<line x1="183.5" y1="109.90" x2="168.4" y2="109.90"/>
<line x1="1543.60" y1="1630.5" x2="1543.60" y2="1645.6"/>
<line x1="1693.00" y1="1630.5" x2="1693.00" y2="1645.6"/>
</g>
<g font-family="&quot;Liberation Sans&quot;, &quot;Noto Sans CJK JP&quot;, sans-serif" font-size="41.67" fill="#000">
<text x="263.85" y="1692.30" text-anchor="middle">120</text>
<text x="426.38" y="1692.30" text-anchor="middle">125</text>
<text x="588.92" y="1692.30" text-anchor="middle">130</text>
<text x="751.46" y="1692.30" text-anchor="middle">135</text>
<text x="913.99" y="1692.30" text-anchor="middle">140</text>
<text x="1076.52" y="1692.30" text-anchor="middle">145</text>
<text x="1239.06" y="1692.30" text-anchor="middle">150</text>
<text x="1401.59" y="1692.30" text-anchor="middle">155</text>
<text x="153.20" y="1552.60" text-anchor="end">20</text>
<text x="153.20" y="1365.47" text-anchor="end">25</text>
<text x="153.20" y="1178.35" text-anchor="end">30</text>
<text x="153.20" y="991.23" text-anchor="end">35</text>
<text x="153.20" y="804.10" text-anchor="end">40</text>
<text x="153.20" y="616.98" text-anchor="end">45</text>
<text x="153.20" y="429.85" text-anchor="end">50</text>
<text x="153.20" y="268.10" text-anchor="end">0</text>
<text x="153.20" y="125.50" text-anchor="end">500</text>
<text x="1543.10" y="1691.50" text-anchor="middle">0</text>
<text x="1692.50" y="1691.50" text-anchor="middle">500</text>
<text x="832.70" y="1748.75" text-anchor="middle">経度</text>
<text x="78.00" y="978.20" text-anchor="middle" transform="rotate(-90 78.00 978.20)">緯度</text>
</g>
</svg></body></html>
